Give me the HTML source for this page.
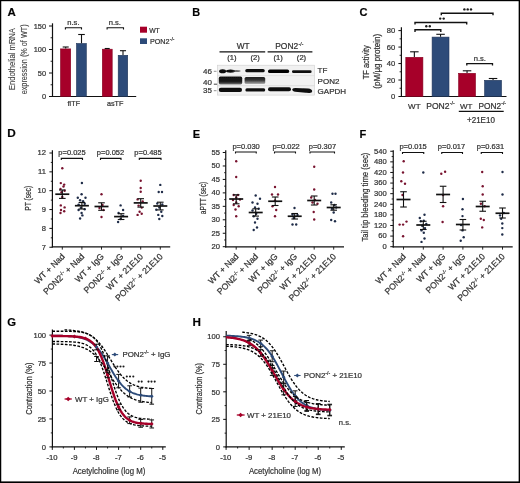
<!DOCTYPE html>
<html><head><meta charset="utf-8"><style>
html,body{margin:0;padding:0;background:#fff;}
body{width:520px;height:483px;overflow:hidden;}
svg{display:block;font-family:"Liberation Sans",sans-serif;will-change:transform;}
text{stroke:#333;stroke-width:0.22px;}
</style></head><body>
<svg width="520" height="483" viewBox="0 0 520 483">
<defs><filter id="bl" x="-10%" y="-50%" width="120%" height="200%"><feGaussianBlur stdDeviation="0.55"/></filter></defs>
<rect x="0" y="0" width="520" height="483" fill="#000"/>
<rect x="1.25" y="1.2" width="517.4" height="480.2" fill="#fff"/>
<g fill="#333" stroke-linecap="butt">
<text x="7.40" y="16.30" font-size="11" font-weight="bold" fill="#000" textLength="8.3" lengthAdjust="spacingAndGlyphs">A</text>
<line x1="52.50" y1="23.30" x2="52.50" y2="97.00" stroke="#111" stroke-width="1.2" />
<line x1="51.90" y1="96.50" x2="136.20" y2="96.50" stroke="#111" stroke-width="1.2" />
<line x1="49.00" y1="96.50" x2="52.50" y2="96.50" stroke="#111" stroke-width="1.0" />
<text x="46.00" y="99.20" font-size="7.4" text-anchor="end">0</text>
<line x1="49.00" y1="73.00" x2="52.50" y2="73.00" stroke="#111" stroke-width="1.0" />
<text x="46.00" y="75.70" font-size="7.4" text-anchor="end">50</text>
<line x1="49.00" y1="49.50" x2="52.50" y2="49.50" stroke="#111" stroke-width="1.0" />
<text x="46.00" y="52.20" font-size="7.4" text-anchor="end">100</text>
<line x1="49.00" y1="26.00" x2="52.50" y2="26.00" stroke="#111" stroke-width="1.0" />
<text x="46.00" y="28.70" font-size="7.4" text-anchor="end">150</text>
<line x1="50.60" y1="84.75" x2="52.50" y2="84.75" stroke="#111" stroke-width="0.9" />
<line x1="50.60" y1="61.25" x2="52.50" y2="61.25" stroke="#111" stroke-width="0.9" />
<line x1="50.60" y1="37.75" x2="52.50" y2="37.75" stroke="#111" stroke-width="0.9" />
<text x="15.30" y="59.10" font-size="9.6" text-anchor="middle" fill="#444" textLength="62" lengthAdjust="spacingAndGlyphs" transform="rotate(-90 15.30 59.10)" style="stroke-width:0.1px">Endothelial mRNA</text>
<text x="27.50" y="59.35" font-size="9.8" text-anchor="middle" fill="#444" textLength="70" lengthAdjust="spacingAndGlyphs" transform="rotate(-90 27.50 59.35)" style="stroke-width:0.1px">expression (% of WT)</text>
<rect x="60.50" y="48.90" width="10.20" height="47.60" fill="#a60029" stroke="#850020" stroke-width="0.6"/>
<rect x="76.50" y="43.50" width="9.80" height="53.00" fill="#2d4b79" stroke="#1f3457" stroke-width="0.6"/>
<rect x="102.30" y="49.20" width="9.90" height="47.30" fill="#a60029" stroke="#850020" stroke-width="0.6"/>
<rect x="118.20" y="55.30" width="9.50" height="41.20" fill="#2d4b79" stroke="#1f3457" stroke-width="0.6"/>
<line x1="65.70" y1="48.60" x2="65.70" y2="47.00" stroke="#111" stroke-width="1.1" />
<line x1="62.70" y1="47.00" x2="68.70" y2="47.00" stroke="#111" stroke-width="1.1" />
<line x1="81.50" y1="43.20" x2="81.50" y2="34.50" stroke="#111" stroke-width="1.1" />
<line x1="78.20" y1="34.50" x2="84.80" y2="34.50" stroke="#111" stroke-width="1.1" />
<line x1="107.20" y1="48.90" x2="107.20" y2="48.50" stroke="#111" stroke-width="1.1" />
<line x1="104.70" y1="48.50" x2="109.70" y2="48.50" stroke="#111" stroke-width="1.1" />
<line x1="123.00" y1="55.00" x2="123.00" y2="50.70" stroke="#111" stroke-width="1.1" />
<line x1="119.95" y1="50.70" x2="126.05" y2="50.70" stroke="#111" stroke-width="1.1" />
<path d="M65.40,29.60 L65.40,27.80 L81.50,27.80 L81.50,29.60" stroke="#111" stroke-width="1.1" fill="none" />
<path d="M107.10,29.60 L107.10,27.80 L123.50,27.80 L123.50,29.60" stroke="#111" stroke-width="1.1" fill="none" />
<text x="73.40" y="25.00" font-size="7.6" text-anchor="middle">n.s.</text>
<text x="114.80" y="25.00" font-size="7.6" text-anchor="middle">n.s.</text>
<text x="73.70" y="106.00" font-size="7.6" text-anchor="middle" textLength="12.6" lengthAdjust="spacingAndGlyphs">fITF</text>
<text x="115.20" y="106.00" font-size="7.6" text-anchor="middle" textLength="16.5" lengthAdjust="spacingAndGlyphs">asTF</text>
<rect x="140.00" y="26.70" width="7.00" height="6.00" fill="#a60029" />
<rect x="140.00" y="38.30" width="7.00" height="5.70" fill="#2d4b79" />
<text x="149.20" y="32.60" font-size="7.4" textLength="10.6" lengthAdjust="spacingAndGlyphs">WT</text>
<text x="149.90" y="43.80" font-size="7.4" textLength="19.7" lengthAdjust="spacingAndGlyphs">PON2</text>
<text x="169.80" y="40.80" font-size="5.0">-/-</text>
<text x="192.20" y="16.40" font-size="11" font-weight="bold" fill="#000" textLength="7.9" lengthAdjust="spacingAndGlyphs">B</text>
<text x="243.10" y="48.60" font-size="8.3" text-anchor="middle">WT</text>
<text x="275.20" y="48.60" font-size="8.3" textLength="23.0" lengthAdjust="spacingAndGlyphs">PON2</text>
<text x="298.60" y="45.60" font-size="5.0">-/-</text>
<line x1="219.50" y1="51.80" x2="265.20" y2="51.80" stroke="#111" stroke-width="1.35" />
<line x1="267.60" y1="51.80" x2="312.40" y2="51.80" stroke="#111" stroke-width="1.35" />
<text x="231.80" y="60.30" font-size="7.6" text-anchor="middle">(1)</text>
<text x="255.10" y="60.30" font-size="7.6" text-anchor="middle">(2)</text>
<text x="278.20" y="60.30" font-size="7.6" text-anchor="middle">(1)</text>
<text x="301.50" y="60.30" font-size="7.6" text-anchor="middle">(2)</text>
<text x="212.00" y="73.90" font-size="8.0" text-anchor="end">46</text>
<text x="212.00" y="84.70" font-size="8.0" text-anchor="end">40</text>
<text x="212.00" y="92.90" font-size="8.0" text-anchor="end">35</text>
<line x1="213.80" y1="71.30" x2="216.50" y2="71.30" stroke="#888" stroke-width="0.9" />
<line x1="213.80" y1="84.20" x2="218.50" y2="84.20" stroke="#444" stroke-width="1.0" />
<line x1="213.80" y1="90.70" x2="216.50" y2="90.70" stroke="#888" stroke-width="0.9" />
<rect x="217.30" y="65.20" width="97.30" height="29.90" fill="#f1f1f1" stroke="#cfcfcf" stroke-width="0.6"/>
<line x1="217.30" y1="75.60" x2="314.60" y2="75.60" stroke="#d8d8d8" stroke-width="0.6" />
<line x1="217.30" y1="85.70" x2="314.60" y2="85.70" stroke="#d0d0d0" stroke-width="0.6" />
<defs><linearGradient id="pg1" x1="0" y1="0" x2="0" y2="1"><stop offset="0" stop-color="#101010"/><stop offset="0.6" stop-color="#181818"/><stop offset="0.8" stop-color="#3a3a3a"/><stop offset="1" stop-color="#777"/></linearGradient><linearGradient id="pg2" x1="0" y1="0" x2="0" y2="1"><stop offset="0" stop-color="#1c1c1c"/><stop offset="0.45" stop-color="#333"/><stop offset="0.75" stop-color="#777"/><stop offset="1" stop-color="#b5b5b5"/></linearGradient></defs>
<g filter="url(#bl)">
<ellipse cx="222.6" cy="71.2" rx="3.5" ry="2.0" fill="#080808"/>
<ellipse cx="230.5" cy="71.1" rx="4.6" ry="1.6" fill="#0e0e0e"/>
<ellipse cx="236.5" cy="71.0" rx="4.2" ry="0.8" fill="#444"/>
<rect x="245.3" y="69.1" width="19.4" height="3.1" rx="1.5" fill="#0a0a0a"/>
<rect x="268.0" y="69.5" width="21.2" height="3.6" rx="1.7" fill="#060606"/>
<rect x="292.0" y="70.2" width="19.6" height="2.9" rx="1.4" fill="#0e0e0e"/>
<rect x="218.8" y="76.6" width="23.4" height="7.8" rx="1.6" fill="url(#pg1)"/>
<rect x="244.6" y="76.9" width="20.6" height="7.2" rx="1.6" fill="url(#pg2)"/>
<rect x="218.8" y="87.7" width="23.2" height="4.4" rx="2" fill="#0a0a0a"/>
<rect x="245.4" y="88.3" width="19.8" height="3.1" rx="1.5" fill="#0e0e0e"/>
<rect x="268.0" y="87.3" width="23.0" height="4.0" rx="2" fill="#0a0a0a"/>
<path d="M292.2,89.6 Q292.2,88.0 295,88.0 L308,88.4 Q312.2,88.8 312.2,91.2 Q312.2,93.2 309,93.0 L295,91.8 Q292.2,91.4 292.2,89.6 Z" fill="#0a0a0a"/>
</g>
<text x="317.60" y="73.20" font-size="8.0">TF</text>
<text x="317.60" y="83.50" font-size="8.0">PON2</text>
<text x="317.60" y="93.50" font-size="8.0">GAPDH</text>
<text x="359.60" y="16.40" font-size="11" font-weight="bold" fill="#000" textLength="8.0" lengthAdjust="spacingAndGlyphs">C</text>
<line x1="401.40" y1="27.30" x2="401.40" y2="97.00" stroke="#111" stroke-width="1.2" />
<line x1="400.80" y1="96.50" x2="506.50" y2="96.50" stroke="#111" stroke-width="1.2" />
<line x1="398.40" y1="96.50" x2="401.40" y2="96.50" stroke="#111" stroke-width="1.0" />
<text x="395.30" y="99.10" font-size="7.6" text-anchor="end">0</text>
<line x1="398.40" y1="80.03" x2="401.40" y2="80.03" stroke="#111" stroke-width="1.0" />
<text x="395.30" y="82.62" font-size="7.6" text-anchor="end">20</text>
<line x1="398.40" y1="63.55" x2="401.40" y2="63.55" stroke="#111" stroke-width="1.0" />
<text x="395.30" y="66.15" font-size="7.6" text-anchor="end">40</text>
<line x1="398.40" y1="47.07" x2="401.40" y2="47.07" stroke="#111" stroke-width="1.0" />
<text x="395.30" y="49.67" font-size="7.6" text-anchor="end">60</text>
<line x1="398.40" y1="30.60" x2="401.40" y2="30.60" stroke="#111" stroke-width="1.0" />
<text x="395.30" y="33.20" font-size="7.6" text-anchor="end">80</text>
<line x1="399.60" y1="88.26" x2="401.40" y2="88.26" stroke="#111" stroke-width="0.9" />
<line x1="399.60" y1="71.79" x2="401.40" y2="71.79" stroke="#111" stroke-width="0.9" />
<line x1="399.60" y1="55.31" x2="401.40" y2="55.31" stroke="#111" stroke-width="0.9" />
<line x1="399.60" y1="38.84" x2="401.40" y2="38.84" stroke="#111" stroke-width="0.9" />
<text x="369.40" y="62.30" font-size="9.2" text-anchor="middle" textLength="34" lengthAdjust="spacingAndGlyphs" transform="rotate(-90 369.40 62.30)">TF activity</text>
<text x="379.90" y="61.25" font-size="9.0" text-anchor="middle" textLength="55" lengthAdjust="spacingAndGlyphs" transform="rotate(-90 379.90 61.25)">(pM/µg protein)</text>
<rect x="405.80" y="57.30" width="17.10" height="39.20" fill="#a60029" stroke="#850020" stroke-width="0.6"/>
<line x1="414.35" y1="57.00" x2="414.35" y2="51.80" stroke="#111" stroke-width="1.1" />
<line x1="410.10" y1="51.80" x2="418.60" y2="51.80" stroke="#111" stroke-width="1.1" />
<rect x="432.10" y="37.10" width="16.90" height="59.40" fill="#2d4b79" stroke="#1f3457" stroke-width="0.6"/>
<line x1="440.55" y1="36.80" x2="440.55" y2="34.30" stroke="#111" stroke-width="1.1" />
<line x1="436.30" y1="34.30" x2="444.80" y2="34.30" stroke="#111" stroke-width="1.1" />
<rect x="458.60" y="73.30" width="16.90" height="23.20" fill="#a60029" stroke="#850020" stroke-width="0.6"/>
<line x1="467.05" y1="73.00" x2="467.05" y2="70.80" stroke="#111" stroke-width="1.1" />
<line x1="462.80" y1="70.80" x2="471.30" y2="70.80" stroke="#111" stroke-width="1.1" />
<rect x="484.60" y="80.30" width="16.90" height="16.20" fill="#2d4b79" stroke="#1f3457" stroke-width="0.6"/>
<line x1="493.05" y1="80.00" x2="493.05" y2="78.50" stroke="#111" stroke-width="1.1" />
<line x1="488.80" y1="78.50" x2="497.30" y2="78.50" stroke="#111" stroke-width="1.1" />
<path d="M415.00,32.00 L415.00,29.80 L440.80,29.80 L440.80,32.00" stroke="#111" stroke-width="1.4" fill="none" />
<path d="M415.00,24.60 L415.00,22.50 L466.70,22.50 L466.70,24.60" stroke="#111" stroke-width="1.4" fill="none" />
<path d="M441.30,15.20 L441.30,13.30 L493.00,13.30 L493.00,15.20" stroke="#111" stroke-width="1.4" fill="none" />
<path d="M466.80,65.50 L466.80,63.70 L492.50,63.70 L492.50,65.50" stroke="#111" stroke-width="1.3" fill="none" />
<circle cx="426.30" cy="26.30" r="1.2" fill="#1a1a1a"/>
<circle cx="429.80" cy="26.30" r="1.2" fill="#1a1a1a"/>
<circle cx="440.20" cy="18.60" r="1.2" fill="#1a1a1a"/>
<circle cx="443.70" cy="18.60" r="1.2" fill="#1a1a1a"/>
<circle cx="464.40" cy="9.40" r="1.2" fill="#1a1a1a"/>
<circle cx="467.70" cy="9.40" r="1.2" fill="#1a1a1a"/>
<circle cx="471.00" cy="9.40" r="1.2" fill="#1a1a1a"/>
<text x="479.80" y="60.90" font-size="7.6" text-anchor="middle">n.s.</text>
<text x="414.30" y="108.60" font-size="8.0" text-anchor="middle">WT</text>
<text x="426.20" y="108.60" font-size="8.2" textLength="23.3" lengthAdjust="spacingAndGlyphs">PON2</text>
<text x="449.80" y="104.90" font-size="5.2">-/-</text>
<text x="466.10" y="108.60" font-size="8.0" text-anchor="middle">WT</text>
<text x="478.50" y="108.60" font-size="8.2" textLength="22.6" lengthAdjust="spacingAndGlyphs">PON2</text>
<text x="501.20" y="104.90" font-size="5.2">-/-</text>
<line x1="458.80" y1="111.30" x2="503.70" y2="111.30" stroke="#111" stroke-width="1.35" />
<text x="467.00" y="123.10" font-size="8.4" textLength="27.9" lengthAdjust="spacingAndGlyphs">+21E10</text>
<text x="7.20" y="137.30" font-size="11" font-weight="bold" fill="#000" textLength="8.5" lengthAdjust="spacingAndGlyphs">D</text>
<line x1="52.40" y1="150.20" x2="52.40" y2="247.40" stroke="#111" stroke-width="1.2" />
<line x1="51.80" y1="246.90" x2="170.20" y2="246.90" stroke="#111" stroke-width="1.2" />
<line x1="49.40" y1="247.25" x2="52.40" y2="247.25" stroke="#111" stroke-width="1.0" />
<text x="46.00" y="249.55" font-size="7.6" text-anchor="end">7</text>
<line x1="49.40" y1="228.40" x2="52.40" y2="228.40" stroke="#111" stroke-width="1.0" />
<text x="46.00" y="230.70" font-size="7.6" text-anchor="end">8</text>
<line x1="49.40" y1="209.55" x2="52.40" y2="209.55" stroke="#111" stroke-width="1.0" />
<text x="46.00" y="211.85" font-size="7.6" text-anchor="end">9</text>
<line x1="49.40" y1="190.70" x2="52.40" y2="190.70" stroke="#111" stroke-width="1.0" />
<text x="46.00" y="193.00" font-size="7.6" text-anchor="end">10</text>
<line x1="49.40" y1="171.85" x2="52.40" y2="171.85" stroke="#111" stroke-width="1.0" />
<text x="46.00" y="174.15" font-size="7.6" text-anchor="end">11</text>
<line x1="49.40" y1="153.00" x2="52.40" y2="153.00" stroke="#111" stroke-width="1.0" />
<text x="46.00" y="155.30" font-size="7.6" text-anchor="end">12</text>
<line x1="50.80" y1="237.82" x2="52.40" y2="237.82" stroke="#111" stroke-width="0.9" />
<line x1="50.80" y1="218.98" x2="52.40" y2="218.98" stroke="#111" stroke-width="0.9" />
<line x1="50.80" y1="200.12" x2="52.40" y2="200.12" stroke="#111" stroke-width="0.9" />
<line x1="50.80" y1="181.28" x2="52.40" y2="181.28" stroke="#111" stroke-width="0.9" />
<line x1="50.80" y1="162.43" x2="52.40" y2="162.43" stroke="#111" stroke-width="0.9" />
<line x1="62.30" y1="246.90" x2="62.30" y2="249.60" stroke="#111" stroke-width="0.9" />
<line x1="81.90" y1="246.90" x2="81.90" y2="249.60" stroke="#111" stroke-width="0.9" />
<line x1="101.50" y1="246.90" x2="101.50" y2="249.60" stroke="#111" stroke-width="0.9" />
<line x1="121.10" y1="246.90" x2="121.10" y2="249.60" stroke="#111" stroke-width="0.9" />
<line x1="140.70" y1="246.90" x2="140.70" y2="249.60" stroke="#111" stroke-width="0.9" />
<line x1="160.30" y1="246.90" x2="160.30" y2="249.60" stroke="#111" stroke-width="0.9" />
<circle cx="62.30" cy="168.20" r="1.2" fill="#78132f"/>
<circle cx="60.80" cy="183.10" r="1.2" fill="#78132f"/>
<circle cx="64.20" cy="184.60" r="1.2" fill="#78132f"/>
<circle cx="63.50" cy="186.50" r="1.2" fill="#78132f"/>
<circle cx="60.50" cy="189.00" r="1.2" fill="#78132f"/>
<circle cx="64.60" cy="190.80" r="1.2" fill="#78132f"/>
<circle cx="61.50" cy="192.30" r="1.2" fill="#78132f"/>
<circle cx="62.30" cy="197.00" r="1.2" fill="#78132f"/>
<circle cx="60.80" cy="205.40" r="1.2" fill="#78132f"/>
<circle cx="64.60" cy="207.40" r="1.2" fill="#78132f"/>
<circle cx="61.00" cy="210.00" r="1.2" fill="#78132f"/>
<circle cx="64.20" cy="211.20" r="1.2" fill="#78132f"/>
<circle cx="60.50" cy="213.00" r="1.2" fill="#78132f"/>
<circle cx="81.90" cy="183.00" r="1.2" fill="#1f2c48"/>
<circle cx="81.60" cy="194.20" r="1.2" fill="#1f2c48"/>
<circle cx="77.80" cy="197.70" r="1.2" fill="#1f2c48"/>
<circle cx="85.50" cy="197.70" r="1.2" fill="#1f2c48"/>
<circle cx="80.10" cy="200.30" r="1.2" fill="#1f2c48"/>
<circle cx="83.10" cy="201.20" r="1.2" fill="#1f2c48"/>
<circle cx="78.60" cy="204.60" r="1.2" fill="#1f2c48"/>
<circle cx="84.70" cy="203.80" r="1.2" fill="#1f2c48"/>
<circle cx="80.90" cy="207.70" r="1.2" fill="#1f2c48"/>
<circle cx="84.70" cy="209.20" r="1.2" fill="#1f2c48"/>
<circle cx="78.60" cy="210.00" r="1.2" fill="#1f2c48"/>
<circle cx="81.60" cy="213.00" r="1.2" fill="#1f2c48"/>
<circle cx="82.40" cy="215.40" r="1.2" fill="#1f2c48"/>
<circle cx="80.10" cy="218.50" r="1.2" fill="#1f2c48"/>
<circle cx="101.50" cy="194.20" r="1.2" fill="#78132f"/>
<circle cx="102.50" cy="205.00" r="1.2" fill="#78132f"/>
<circle cx="99.50" cy="208.00" r="1.2" fill="#78132f"/>
<circle cx="103.50" cy="210.00" r="1.2" fill="#78132f"/>
<circle cx="101.50" cy="217.00" r="1.2" fill="#78132f"/>
<circle cx="120.60" cy="205.40" r="1.2" fill="#1f2c48"/>
<circle cx="123.10" cy="210.00" r="1.2" fill="#1f2c48"/>
<circle cx="118.60" cy="213.00" r="1.2" fill="#1f2c48"/>
<circle cx="123.10" cy="216.00" r="1.2" fill="#1f2c48"/>
<circle cx="120.60" cy="219.00" r="1.2" fill="#1f2c48"/>
<circle cx="118.10" cy="222.00" r="1.2" fill="#1f2c48"/>
<circle cx="140.70" cy="180.70" r="1.2" fill="#78132f"/>
<circle cx="140.70" cy="188.00" r="1.2" fill="#78132f"/>
<circle cx="140.70" cy="191.70" r="1.2" fill="#78132f"/>
<circle cx="137.60" cy="199.40" r="1.2" fill="#78132f"/>
<circle cx="142.70" cy="201.40" r="1.2" fill="#78132f"/>
<circle cx="138.60" cy="205.60" r="1.2" fill="#78132f"/>
<circle cx="141.70" cy="207.60" r="1.2" fill="#78132f"/>
<circle cx="139.60" cy="211.80" r="1.2" fill="#78132f"/>
<circle cx="137.60" cy="214.90" r="1.2" fill="#78132f"/>
<circle cx="141.70" cy="213.80" r="1.2" fill="#78132f"/>
<circle cx="160.30" cy="184.90" r="1.2" fill="#1f2c48"/>
<circle cx="158.70" cy="192.00" r="1.2" fill="#1f2c48"/>
<circle cx="162.00" cy="192.00" r="1.2" fill="#1f2c48"/>
<circle cx="157.30" cy="203.50" r="1.2" fill="#1f2c48"/>
<circle cx="162.30" cy="204.50" r="1.2" fill="#1f2c48"/>
<circle cx="159.30" cy="207.60" r="1.2" fill="#1f2c48"/>
<circle cx="156.30" cy="209.70" r="1.2" fill="#1f2c48"/>
<circle cx="161.30" cy="211.80" r="1.2" fill="#1f2c48"/>
<circle cx="158.30" cy="214.90" r="1.2" fill="#1f2c48"/>
<circle cx="162.30" cy="216.00" r="1.2" fill="#1f2c48"/>
<circle cx="159.30" cy="219.00" r="1.2" fill="#1f2c48"/>
<line x1="55.30" y1="194.20" x2="69.30" y2="194.20" stroke="#111" stroke-width="1.7" />
<line x1="62.30" y1="190.00" x2="62.30" y2="198.40" stroke="#111" stroke-width="1.1" />
<line x1="59.00" y1="190.00" x2="65.60" y2="190.00" stroke="#111" stroke-width="1.1" />
<line x1="59.00" y1="198.40" x2="65.60" y2="198.40" stroke="#111" stroke-width="1.1" />
<line x1="74.90" y1="205.70" x2="88.90" y2="205.70" stroke="#111" stroke-width="1.7" />
<line x1="81.90" y1="202.50" x2="81.90" y2="209.00" stroke="#111" stroke-width="1.1" />
<line x1="78.60" y1="202.50" x2="85.20" y2="202.50" stroke="#111" stroke-width="1.1" />
<line x1="78.60" y1="209.00" x2="85.20" y2="209.00" stroke="#111" stroke-width="1.1" />
<line x1="94.50" y1="206.50" x2="108.50" y2="206.50" stroke="#111" stroke-width="1.7" />
<line x1="101.50" y1="202.80" x2="101.50" y2="210.30" stroke="#111" stroke-width="1.1" />
<line x1="98.20" y1="202.80" x2="104.80" y2="202.80" stroke="#111" stroke-width="1.1" />
<line x1="98.20" y1="210.30" x2="104.80" y2="210.30" stroke="#111" stroke-width="1.1" />
<line x1="114.10" y1="216.60" x2="128.10" y2="216.60" stroke="#111" stroke-width="1.7" />
<line x1="121.10" y1="213.70" x2="121.10" y2="219.50" stroke="#111" stroke-width="1.1" />
<line x1="117.80" y1="213.70" x2="124.40" y2="213.70" stroke="#111" stroke-width="1.1" />
<line x1="117.80" y1="219.50" x2="124.40" y2="219.50" stroke="#111" stroke-width="1.1" />
<line x1="133.70" y1="202.90" x2="147.70" y2="202.90" stroke="#111" stroke-width="1.7" />
<line x1="140.70" y1="198.70" x2="140.70" y2="207.10" stroke="#111" stroke-width="1.1" />
<line x1="137.40" y1="198.70" x2="144.00" y2="198.70" stroke="#111" stroke-width="1.1" />
<line x1="137.40" y1="207.10" x2="144.00" y2="207.10" stroke="#111" stroke-width="1.1" />
<line x1="153.30" y1="206.00" x2="167.30" y2="206.00" stroke="#111" stroke-width="1.7" />
<line x1="160.30" y1="202.20" x2="160.30" y2="209.90" stroke="#111" stroke-width="1.1" />
<line x1="157.00" y1="202.20" x2="163.60" y2="202.20" stroke="#111" stroke-width="1.1" />
<line x1="157.00" y1="209.90" x2="163.60" y2="209.90" stroke="#111" stroke-width="1.1" />
<path d="M61.30,160.00 L61.30,158.40 L82.50,158.40 L82.50,160.00" stroke="#111" stroke-width="1.1" fill="none" />
<text x="72.00" y="155.20" font-size="7.5" text-anchor="middle">p=0.025</text>
<path d="M100.50,160.00 L100.50,158.40 L121.00,158.40 L121.00,160.00" stroke="#111" stroke-width="1.1" fill="none" />
<text x="110.50" y="155.20" font-size="7.5" text-anchor="middle">p=0.052</text>
<path d="M139.30,160.00 L139.30,158.40 L161.00,158.40 L161.00,160.00" stroke="#111" stroke-width="1.1" fill="none" />
<text x="148.00" y="155.20" font-size="7.5" text-anchor="middle">p=0.485</text>
<text x="30.90" y="198.30" font-size="8.8" text-anchor="middle" textLength="24.8" lengthAdjust="spacingAndGlyphs" transform="rotate(-90 30.90 198.30)">PT (sec)</text>
<text x="65.30" y="257.00" font-size="8.6" text-anchor="end" transform="rotate(-45 65.30 257.00)">WT + Nad</text>
<text x="84.90" y="257.00" font-size="8.6" text-anchor="end" transform="rotate(-45 84.90 257.00)">PON2<tspan font-size="5.2" dy="-3.1">-/-</tspan><tspan dy="3.1"> + Nad</tspan></text>
<text x="104.50" y="257.00" font-size="8.6" text-anchor="end" transform="rotate(-45 104.50 257.00)">WT + IgG</text>
<text x="124.10" y="257.00" font-size="8.6" text-anchor="end" transform="rotate(-45 124.10 257.00)">PON2<tspan font-size="5.2" dy="-3.1">-/-</tspan><tspan dy="3.1"> + IgG</tspan></text>
<text x="143.70" y="257.00" font-size="8.6" text-anchor="end" transform="rotate(-45 143.70 257.00)">WT + 21E10</text>
<text x="163.30" y="257.00" font-size="8.6" text-anchor="end" transform="rotate(-45 163.30 257.00)">PON2<tspan font-size="5.2" dy="-3.1">-/-</tspan><tspan dy="3.1"> + 21E10</tspan></text>
<text x="192.80" y="137.80" font-size="11" font-weight="bold" fill="#000" textLength="7.4" lengthAdjust="spacingAndGlyphs">E</text>
<line x1="225.75" y1="150.20" x2="225.75" y2="247.40" stroke="#111" stroke-width="1.2" />
<line x1="225.15" y1="246.90" x2="344.00" y2="246.90" stroke="#111" stroke-width="1.2" />
<line x1="222.75" y1="246.70" x2="225.75" y2="246.70" stroke="#111" stroke-width="1.0" />
<text x="220.00" y="249.00" font-size="7.6" text-anchor="end">20</text>
<line x1="222.75" y1="233.25" x2="225.75" y2="233.25" stroke="#111" stroke-width="1.0" />
<text x="220.00" y="235.55" font-size="7.6" text-anchor="end">25</text>
<line x1="222.75" y1="219.79" x2="225.75" y2="219.79" stroke="#111" stroke-width="1.0" />
<text x="220.00" y="222.09" font-size="7.6" text-anchor="end">30</text>
<line x1="222.75" y1="206.33" x2="225.75" y2="206.33" stroke="#111" stroke-width="1.0" />
<text x="220.00" y="208.63" font-size="7.6" text-anchor="end">35</text>
<line x1="222.75" y1="192.88" x2="225.75" y2="192.88" stroke="#111" stroke-width="1.0" />
<text x="220.00" y="195.18" font-size="7.6" text-anchor="end">40</text>
<line x1="222.75" y1="179.43" x2="225.75" y2="179.43" stroke="#111" stroke-width="1.0" />
<text x="220.00" y="181.73" font-size="7.6" text-anchor="end">45</text>
<line x1="222.75" y1="165.97" x2="225.75" y2="165.97" stroke="#111" stroke-width="1.0" />
<text x="220.00" y="168.27" font-size="7.6" text-anchor="end">50</text>
<line x1="222.75" y1="152.51" x2="225.75" y2="152.51" stroke="#111" stroke-width="1.0" />
<text x="220.00" y="154.81" font-size="7.6" text-anchor="end">55</text>
<line x1="224.15" y1="239.97" x2="225.75" y2="239.97" stroke="#111" stroke-width="0.9" />
<line x1="224.15" y1="226.52" x2="225.75" y2="226.52" stroke="#111" stroke-width="0.9" />
<line x1="224.15" y1="213.06" x2="225.75" y2="213.06" stroke="#111" stroke-width="0.9" />
<line x1="224.15" y1="199.61" x2="225.75" y2="199.61" stroke="#111" stroke-width="0.9" />
<line x1="224.15" y1="186.15" x2="225.75" y2="186.15" stroke="#111" stroke-width="0.9" />
<line x1="224.15" y1="172.70" x2="225.75" y2="172.70" stroke="#111" stroke-width="0.9" />
<line x1="224.15" y1="159.24" x2="225.75" y2="159.24" stroke="#111" stroke-width="0.9" />
<line x1="236.20" y1="246.90" x2="236.20" y2="249.60" stroke="#111" stroke-width="0.9" />
<line x1="255.70" y1="246.90" x2="255.70" y2="249.60" stroke="#111" stroke-width="0.9" />
<line x1="275.20" y1="246.90" x2="275.20" y2="249.60" stroke="#111" stroke-width="0.9" />
<line x1="294.70" y1="246.90" x2="294.70" y2="249.60" stroke="#111" stroke-width="0.9" />
<line x1="314.20" y1="246.90" x2="314.20" y2="249.60" stroke="#111" stroke-width="0.9" />
<line x1="333.70" y1="246.90" x2="333.70" y2="249.60" stroke="#111" stroke-width="0.9" />
<circle cx="236.20" cy="161.25" r="1.2" fill="#78132f"/>
<circle cx="236.20" cy="177.00" r="1.2" fill="#78132f"/>
<circle cx="233.70" cy="195.00" r="1.2" fill="#78132f"/>
<circle cx="238.00" cy="195.00" r="1.2" fill="#78132f"/>
<circle cx="236.20" cy="197.50" r="1.2" fill="#78132f"/>
<circle cx="233.00" cy="200.00" r="1.2" fill="#78132f"/>
<circle cx="240.00" cy="199.50" r="1.2" fill="#78132f"/>
<circle cx="236.20" cy="202.50" r="1.2" fill="#78132f"/>
<circle cx="233.70" cy="205.00" r="1.2" fill="#78132f"/>
<circle cx="238.70" cy="206.25" r="1.2" fill="#78132f"/>
<circle cx="235.50" cy="209.50" r="1.2" fill="#78132f"/>
<circle cx="236.20" cy="216.25" r="1.2" fill="#78132f"/>
<circle cx="255.70" cy="195.50" r="1.2" fill="#1f2c48"/>
<circle cx="260.00" cy="198.75" r="1.2" fill="#1f2c48"/>
<circle cx="252.50" cy="202.50" r="1.2" fill="#1f2c48"/>
<circle cx="257.50" cy="203.75" r="1.2" fill="#1f2c48"/>
<circle cx="255.00" cy="207.50" r="1.2" fill="#1f2c48"/>
<circle cx="258.70" cy="208.75" r="1.2" fill="#1f2c48"/>
<circle cx="252.50" cy="210.50" r="1.2" fill="#1f2c48"/>
<circle cx="256.20" cy="213.75" r="1.2" fill="#1f2c48"/>
<circle cx="253.70" cy="216.25" r="1.2" fill="#1f2c48"/>
<circle cx="257.50" cy="218.75" r="1.2" fill="#1f2c48"/>
<circle cx="255.00" cy="222.50" r="1.2" fill="#1f2c48"/>
<circle cx="257.00" cy="227.50" r="1.2" fill="#1f2c48"/>
<circle cx="253.70" cy="230.00" r="1.2" fill="#1f2c48"/>
<circle cx="275.00" cy="187.00" r="1.2" fill="#78132f"/>
<circle cx="272.00" cy="194.50" r="1.2" fill="#78132f"/>
<circle cx="278.00" cy="194.50" r="1.2" fill="#78132f"/>
<circle cx="275.00" cy="200.50" r="1.2" fill="#78132f"/>
<circle cx="272.50" cy="206.25" r="1.2" fill="#78132f"/>
<circle cx="276.20" cy="210.00" r="1.2" fill="#78132f"/>
<circle cx="275.00" cy="216.25" r="1.2" fill="#78132f"/>
<circle cx="294.50" cy="208.00" r="1.2" fill="#1f2c48"/>
<circle cx="292.50" cy="214.50" r="1.2" fill="#1f2c48"/>
<circle cx="297.50" cy="215.00" r="1.2" fill="#1f2c48"/>
<circle cx="293.70" cy="218.00" r="1.2" fill="#1f2c48"/>
<circle cx="292.50" cy="224.50" r="1.2" fill="#1f2c48"/>
<circle cx="296.20" cy="224.50" r="1.2" fill="#1f2c48"/>
<circle cx="314.20" cy="166.75" r="1.2" fill="#78132f"/>
<circle cx="314.20" cy="189.50" r="1.2" fill="#78132f"/>
<circle cx="311.20" cy="197.50" r="1.2" fill="#78132f"/>
<circle cx="315.00" cy="200.00" r="1.2" fill="#78132f"/>
<circle cx="312.50" cy="202.50" r="1.2" fill="#78132f"/>
<circle cx="317.50" cy="203.75" r="1.2" fill="#78132f"/>
<circle cx="313.70" cy="212.00" r="1.2" fill="#78132f"/>
<circle cx="314.20" cy="219.50" r="1.2" fill="#78132f"/>
<circle cx="332.50" cy="193.75" r="1.2" fill="#1f2c48"/>
<circle cx="335.50" cy="193.75" r="1.2" fill="#1f2c48"/>
<circle cx="331.20" cy="202.50" r="1.2" fill="#1f2c48"/>
<circle cx="334.50" cy="205.00" r="1.2" fill="#1f2c48"/>
<circle cx="336.20" cy="207.50" r="1.2" fill="#1f2c48"/>
<circle cx="332.00" cy="208.75" r="1.2" fill="#1f2c48"/>
<circle cx="333.70" cy="212.50" r="1.2" fill="#1f2c48"/>
<circle cx="331.20" cy="220.00" r="1.2" fill="#1f2c48"/>
<circle cx="335.00" cy="221.25" r="1.2" fill="#1f2c48"/>
<line x1="229.20" y1="199.00" x2="243.20" y2="199.00" stroke="#111" stroke-width="1.7" />
<line x1="236.20" y1="194.80" x2="236.20" y2="203.80" stroke="#111" stroke-width="1.1" />
<line x1="232.90" y1="194.80" x2="239.50" y2="194.80" stroke="#111" stroke-width="1.1" />
<line x1="232.90" y1="203.80" x2="239.50" y2="203.80" stroke="#111" stroke-width="1.1" />
<line x1="248.70" y1="212.50" x2="262.70" y2="212.50" stroke="#111" stroke-width="1.7" />
<line x1="255.70" y1="208.80" x2="255.70" y2="216.10" stroke="#111" stroke-width="1.1" />
<line x1="252.40" y1="208.80" x2="259.00" y2="208.80" stroke="#111" stroke-width="1.1" />
<line x1="252.40" y1="216.10" x2="259.00" y2="216.10" stroke="#111" stroke-width="1.1" />
<line x1="268.20" y1="201.25" x2="282.20" y2="201.25" stroke="#111" stroke-width="1.7" />
<line x1="275.20" y1="197.00" x2="275.20" y2="205.50" stroke="#111" stroke-width="1.1" />
<line x1="271.90" y1="197.00" x2="278.50" y2="197.00" stroke="#111" stroke-width="1.1" />
<line x1="271.90" y1="205.50" x2="278.50" y2="205.50" stroke="#111" stroke-width="1.1" />
<line x1="287.70" y1="216.25" x2="301.70" y2="216.25" stroke="#111" stroke-width="1.7" />
<line x1="294.70" y1="213.50" x2="294.70" y2="219.00" stroke="#111" stroke-width="1.1" />
<line x1="291.40" y1="213.50" x2="298.00" y2="213.50" stroke="#111" stroke-width="1.1" />
<line x1="291.40" y1="219.00" x2="298.00" y2="219.00" stroke="#111" stroke-width="1.1" />
<line x1="307.20" y1="200.50" x2="321.20" y2="200.50" stroke="#111" stroke-width="1.7" />
<line x1="314.20" y1="196.00" x2="314.20" y2="205.00" stroke="#111" stroke-width="1.1" />
<line x1="310.90" y1="196.00" x2="317.50" y2="196.00" stroke="#111" stroke-width="1.1" />
<line x1="310.90" y1="205.00" x2="317.50" y2="205.00" stroke="#111" stroke-width="1.1" />
<line x1="326.70" y1="207.50" x2="340.70" y2="207.50" stroke="#111" stroke-width="1.7" />
<line x1="333.70" y1="204.80" x2="333.70" y2="210.20" stroke="#111" stroke-width="1.1" />
<line x1="330.40" y1="204.80" x2="337.00" y2="204.80" stroke="#111" stroke-width="1.1" />
<line x1="330.40" y1="210.20" x2="337.00" y2="210.20" stroke="#111" stroke-width="1.1" />
<path d="M235.50,153.60 L235.50,152.00 L256.25,152.00 L256.25,153.60" stroke="#111" stroke-width="1.1" fill="none" />
<text x="246.10" y="148.80" font-size="7.5" text-anchor="middle">p=0.030</text>
<path d="M274.50,153.60 L274.50,152.00 L295.50,152.00 L295.50,153.60" stroke="#111" stroke-width="1.1" fill="none" />
<text x="286.10" y="148.80" font-size="7.5" text-anchor="middle">p=0.022</text>
<path d="M310.00,153.60 L310.00,152.00 L334.50,152.00 L334.50,153.60" stroke="#111" stroke-width="1.1" fill="none" />
<text x="322.40" y="148.80" font-size="7.5" text-anchor="middle">p=0.307</text>
<text x="205.80" y="198.00" font-size="8.8" text-anchor="middle" textLength="32.3" lengthAdjust="spacingAndGlyphs" transform="rotate(-90 205.80 198.00)">aPTT (sec)</text>
<text x="239.20" y="257.00" font-size="8.6" text-anchor="end" transform="rotate(-45 239.20 257.00)">WT + Nad</text>
<text x="258.70" y="257.00" font-size="8.6" text-anchor="end" transform="rotate(-45 258.70 257.00)">PON2<tspan font-size="5.2" dy="-3.1">-/-</tspan><tspan dy="3.1"> + Nad</tspan></text>
<text x="278.20" y="257.00" font-size="8.6" text-anchor="end" transform="rotate(-45 278.20 257.00)">WT + IgG</text>
<text x="297.70" y="257.00" font-size="8.6" text-anchor="end" transform="rotate(-45 297.70 257.00)">PON2<tspan font-size="5.2" dy="-3.1">-/-</tspan><tspan dy="3.1"> + IgG</tspan></text>
<text x="317.20" y="257.00" font-size="8.6" text-anchor="end" transform="rotate(-45 317.20 257.00)">WT + 21E10</text>
<text x="336.70" y="257.00" font-size="8.6" text-anchor="end" transform="rotate(-45 336.70 257.00)">PON2<tspan font-size="5.2" dy="-3.1">-/-</tspan><tspan dy="3.1"> + 21E10</tspan></text>
<text x="359.50" y="137.80" font-size="11" font-weight="bold" fill="#000" textLength="6.8" lengthAdjust="spacingAndGlyphs">F</text>
<line x1="393.25" y1="150.20" x2="393.25" y2="247.40" stroke="#111" stroke-width="1.2" />
<line x1="392.65" y1="246.90" x2="512.70" y2="246.90" stroke="#111" stroke-width="1.2" />
<line x1="390.25" y1="246.70" x2="393.25" y2="246.70" stroke="#111" stroke-width="1.0" />
<text x="386.70" y="249.00" font-size="7.6" text-anchor="end">0</text>
<line x1="390.25" y1="236.09" x2="393.25" y2="236.09" stroke="#111" stroke-width="1.0" />
<text x="386.70" y="238.39" font-size="7.6" text-anchor="end">60</text>
<line x1="390.25" y1="225.49" x2="393.25" y2="225.49" stroke="#111" stroke-width="1.0" />
<text x="386.70" y="227.79" font-size="7.6" text-anchor="end">120</text>
<line x1="390.25" y1="214.88" x2="393.25" y2="214.88" stroke="#111" stroke-width="1.0" />
<text x="386.70" y="217.18" font-size="7.6" text-anchor="end">180</text>
<line x1="390.25" y1="204.28" x2="393.25" y2="204.28" stroke="#111" stroke-width="1.0" />
<text x="386.70" y="206.58" font-size="7.6" text-anchor="end">240</text>
<line x1="390.25" y1="193.67" x2="393.25" y2="193.67" stroke="#111" stroke-width="1.0" />
<text x="386.70" y="195.97" font-size="7.6" text-anchor="end">300</text>
<line x1="390.25" y1="183.07" x2="393.25" y2="183.07" stroke="#111" stroke-width="1.0" />
<text x="386.70" y="185.37" font-size="7.6" text-anchor="end">360</text>
<line x1="390.25" y1="172.46" x2="393.25" y2="172.46" stroke="#111" stroke-width="1.0" />
<text x="386.70" y="174.76" font-size="7.6" text-anchor="end">420</text>
<line x1="390.25" y1="161.86" x2="393.25" y2="161.86" stroke="#111" stroke-width="1.0" />
<text x="386.70" y="164.16" font-size="7.6" text-anchor="end">480</text>
<line x1="390.25" y1="151.25" x2="393.25" y2="151.25" stroke="#111" stroke-width="1.0" />
<text x="386.70" y="153.55" font-size="7.6" text-anchor="end">540</text>
<line x1="391.65" y1="241.40" x2="393.25" y2="241.40" stroke="#111" stroke-width="0.9" />
<line x1="391.65" y1="230.79" x2="393.25" y2="230.79" stroke="#111" stroke-width="0.9" />
<line x1="391.65" y1="220.19" x2="393.25" y2="220.19" stroke="#111" stroke-width="0.9" />
<line x1="391.65" y1="209.58" x2="393.25" y2="209.58" stroke="#111" stroke-width="0.9" />
<line x1="391.65" y1="198.97" x2="393.25" y2="198.97" stroke="#111" stroke-width="0.9" />
<line x1="391.65" y1="188.37" x2="393.25" y2="188.37" stroke="#111" stroke-width="0.9" />
<line x1="391.65" y1="177.76" x2="393.25" y2="177.76" stroke="#111" stroke-width="0.9" />
<line x1="391.65" y1="167.16" x2="393.25" y2="167.16" stroke="#111" stroke-width="0.9" />
<line x1="391.65" y1="156.55" x2="393.25" y2="156.55" stroke="#111" stroke-width="0.9" />
<line x1="403.50" y1="246.90" x2="403.50" y2="249.60" stroke="#111" stroke-width="0.9" />
<line x1="423.30" y1="246.90" x2="423.30" y2="249.60" stroke="#111" stroke-width="0.9" />
<line x1="443.10" y1="246.90" x2="443.10" y2="249.60" stroke="#111" stroke-width="0.9" />
<line x1="462.90" y1="246.90" x2="462.90" y2="249.60" stroke="#111" stroke-width="0.9" />
<line x1="482.70" y1="246.90" x2="482.70" y2="249.60" stroke="#111" stroke-width="0.9" />
<line x1="502.50" y1="246.90" x2="502.50" y2="249.60" stroke="#111" stroke-width="0.9" />
<circle cx="403.70" cy="161.25" r="1.2" fill="#78132f"/>
<circle cx="403.00" cy="172.50" r="1.2" fill="#78132f"/>
<circle cx="401.30" cy="181.25" r="1.2" fill="#78132f"/>
<circle cx="405.00" cy="183.75" r="1.2" fill="#78132f"/>
<circle cx="402.50" cy="195.00" r="1.2" fill="#78132f"/>
<circle cx="399.60" cy="224.60" r="1.2" fill="#78132f"/>
<circle cx="403.10" cy="224.60" r="1.2" fill="#78132f"/>
<circle cx="406.50" cy="221.60" r="1.2" fill="#78132f"/>
<circle cx="403.10" cy="236.20" r="1.2" fill="#78132f"/>
<circle cx="423.30" cy="172.50" r="1.2" fill="#1f2c48"/>
<circle cx="424.50" cy="214.70" r="1.2" fill="#1f2c48"/>
<circle cx="420.80" cy="221.20" r="1.2" fill="#1f2c48"/>
<circle cx="423.80" cy="220.70" r="1.2" fill="#1f2c48"/>
<circle cx="422.20" cy="225.80" r="1.2" fill="#1f2c48"/>
<circle cx="425.00" cy="228.10" r="1.2" fill="#1f2c48"/>
<circle cx="421.50" cy="230.40" r="1.2" fill="#1f2c48"/>
<circle cx="423.80" cy="232.70" r="1.2" fill="#1f2c48"/>
<circle cx="424.50" cy="238.50" r="1.2" fill="#1f2c48"/>
<circle cx="421.50" cy="241.90" r="1.2" fill="#1f2c48"/>
<circle cx="426.30" cy="224.00" r="1.2" fill="#1f2c48"/>
<circle cx="419.80" cy="218.00" r="1.2" fill="#1f2c48"/>
<circle cx="441.30" cy="173.75" r="1.2" fill="#78132f"/>
<circle cx="445.10" cy="171.75" r="1.2" fill="#78132f"/>
<circle cx="443.10" cy="195.00" r="1.2" fill="#78132f"/>
<circle cx="443.10" cy="206.25" r="1.2" fill="#78132f"/>
<circle cx="442.60" cy="222.00" r="1.2" fill="#78132f"/>
<circle cx="462.90" cy="199.00" r="1.2" fill="#1f2c48"/>
<circle cx="462.50" cy="209.20" r="1.2" fill="#1f2c48"/>
<circle cx="462.50" cy="216.10" r="1.2" fill="#1f2c48"/>
<circle cx="461.10" cy="225.00" r="1.2" fill="#1f2c48"/>
<circle cx="462.50" cy="230.40" r="1.2" fill="#1f2c48"/>
<circle cx="463.70" cy="237.30" r="1.2" fill="#1f2c48"/>
<circle cx="460.70" cy="240.80" r="1.2" fill="#1f2c48"/>
<circle cx="482.20" cy="172.00" r="1.2" fill="#78132f"/>
<circle cx="482.70" cy="186.25" r="1.2" fill="#78132f"/>
<circle cx="482.70" cy="194.50" r="1.2" fill="#78132f"/>
<circle cx="480.90" cy="203.75" r="1.2" fill="#78132f"/>
<circle cx="484.70" cy="206.25" r="1.2" fill="#78132f"/>
<circle cx="480.80" cy="218.80" r="1.2" fill="#78132f"/>
<circle cx="483.80" cy="220.00" r="1.2" fill="#78132f"/>
<circle cx="482.20" cy="227.40" r="1.2" fill="#78132f"/>
<circle cx="502.50" cy="172.00" r="1.2" fill="#1f2c48"/>
<circle cx="502.50" cy="194.50" r="1.2" fill="#1f2c48"/>
<circle cx="500.00" cy="215.40" r="1.2" fill="#1f2c48"/>
<circle cx="503.80" cy="213.00" r="1.2" fill="#1f2c48"/>
<circle cx="501.20" cy="218.75" r="1.2" fill="#1f2c48"/>
<circle cx="502.30" cy="223.50" r="1.2" fill="#1f2c48"/>
<circle cx="502.30" cy="228.10" r="1.2" fill="#1f2c48"/>
<circle cx="502.30" cy="234.50" r="1.2" fill="#1f2c48"/>
<line x1="396.50" y1="199.50" x2="410.50" y2="199.50" stroke="#111" stroke-width="1.7" />
<line x1="403.50" y1="191.75" x2="403.50" y2="207.00" stroke="#111" stroke-width="1.1" />
<line x1="400.20" y1="191.75" x2="406.80" y2="191.75" stroke="#111" stroke-width="1.1" />
<line x1="400.20" y1="207.00" x2="406.80" y2="207.00" stroke="#111" stroke-width="1.1" />
<line x1="416.30" y1="225.00" x2="430.30" y2="225.00" stroke="#111" stroke-width="1.7" />
<line x1="423.30" y1="221.25" x2="423.30" y2="229.50" stroke="#111" stroke-width="1.1" />
<line x1="420.00" y1="221.25" x2="426.60" y2="221.25" stroke="#111" stroke-width="1.1" />
<line x1="420.00" y1="229.50" x2="426.60" y2="229.50" stroke="#111" stroke-width="1.1" />
<line x1="436.10" y1="194.50" x2="450.10" y2="194.50" stroke="#111" stroke-width="1.7" />
<line x1="443.10" y1="186.25" x2="443.10" y2="202.50" stroke="#111" stroke-width="1.1" />
<line x1="439.80" y1="186.25" x2="446.40" y2="186.25" stroke="#111" stroke-width="1.1" />
<line x1="439.80" y1="202.50" x2="446.40" y2="202.50" stroke="#111" stroke-width="1.1" />
<line x1="455.90" y1="224.50" x2="469.90" y2="224.50" stroke="#111" stroke-width="1.7" />
<line x1="462.90" y1="219.50" x2="462.90" y2="230.00" stroke="#111" stroke-width="1.1" />
<line x1="459.60" y1="219.50" x2="466.20" y2="219.50" stroke="#111" stroke-width="1.1" />
<line x1="459.60" y1="230.00" x2="466.20" y2="230.00" stroke="#111" stroke-width="1.1" />
<line x1="475.70" y1="206.50" x2="489.70" y2="206.50" stroke="#111" stroke-width="1.7" />
<line x1="482.70" y1="201.25" x2="482.70" y2="211.25" stroke="#111" stroke-width="1.1" />
<line x1="479.40" y1="201.25" x2="486.00" y2="201.25" stroke="#111" stroke-width="1.1" />
<line x1="479.40" y1="211.25" x2="486.00" y2="211.25" stroke="#111" stroke-width="1.1" />
<line x1="495.50" y1="213.25" x2="509.50" y2="213.25" stroke="#111" stroke-width="1.7" />
<line x1="502.50" y1="208.00" x2="502.50" y2="218.00" stroke="#111" stroke-width="1.1" />
<line x1="499.20" y1="208.00" x2="505.80" y2="208.00" stroke="#111" stroke-width="1.1" />
<line x1="499.20" y1="218.00" x2="505.80" y2="218.00" stroke="#111" stroke-width="1.1" />
<path d="M402.50,154.10 L402.50,152.50 L423.75,152.50 L423.75,154.10" stroke="#111" stroke-width="1.1" fill="none" />
<text x="413.10" y="149.00" font-size="7.5" text-anchor="middle">p=0.015</text>
<path d="M441.75,154.10 L441.75,152.50 L462.50,152.50 L462.50,154.10" stroke="#111" stroke-width="1.1" fill="none" />
<text x="451.50" y="149.00" font-size="7.5" text-anchor="middle">p=0.017</text>
<path d="M481.25,154.10 L481.25,152.50 L502.50,152.50 L502.50,154.10" stroke="#111" stroke-width="1.1" fill="none" />
<text x="490.40" y="149.00" font-size="7.5" text-anchor="middle">p=0.631</text>
<text x="367.90" y="197.10" font-size="8.8" text-anchor="middle" textLength="89" lengthAdjust="spacingAndGlyphs" transform="rotate(-90 367.90 197.10)">Tail tip bleeding time (sec)</text>
<text x="406.50" y="257.00" font-size="8.6" text-anchor="end" transform="rotate(-45 406.50 257.00)">WT + Nad</text>
<text x="426.30" y="257.00" font-size="8.6" text-anchor="end" transform="rotate(-45 426.30 257.00)">PON2<tspan font-size="5.2" dy="-3.1">-/-</tspan><tspan dy="3.1"> + Nad</tspan></text>
<text x="446.10" y="257.00" font-size="8.6" text-anchor="end" transform="rotate(-45 446.10 257.00)">WT + IgG</text>
<text x="465.90" y="257.00" font-size="8.6" text-anchor="end" transform="rotate(-45 465.90 257.00)">PON2<tspan font-size="5.2" dy="-3.1">-/-</tspan><tspan dy="3.1"> + IgG</tspan></text>
<text x="485.70" y="257.00" font-size="8.6" text-anchor="end" transform="rotate(-45 485.70 257.00)">WT + 21E10</text>
<text x="505.50" y="257.00" font-size="8.6" text-anchor="end" transform="rotate(-45 505.50 257.00)">PON2<tspan font-size="5.2" dy="-3.1">-/-</tspan><tspan dy="3.1"> + 21E10</tspan></text>
<text x="7.30" y="326.20" font-size="11" font-weight="bold" fill="#000" textLength="8.8" lengthAdjust="spacingAndGlyphs">G</text>
<line x1="52.40" y1="329.50" x2="52.40" y2="447.40" stroke="#111" stroke-width="1.2" />
<line x1="51.80" y1="446.90" x2="165.80" y2="446.90" stroke="#111" stroke-width="1.2" />
<line x1="49.40" y1="446.90" x2="52.40" y2="446.90" stroke="#111" stroke-width="1.0" />
<text x="46.10" y="449.60" font-size="7.6" text-anchor="end">0</text>
<line x1="49.40" y1="418.95" x2="52.40" y2="418.95" stroke="#111" stroke-width="1.0" />
<text x="46.10" y="421.65" font-size="7.6" text-anchor="end">25</text>
<line x1="49.40" y1="391.00" x2="52.40" y2="391.00" stroke="#111" stroke-width="1.0" />
<text x="46.10" y="393.70" font-size="7.6" text-anchor="end">50</text>
<line x1="49.40" y1="363.05" x2="52.40" y2="363.05" stroke="#111" stroke-width="1.0" />
<text x="46.10" y="365.75" font-size="7.6" text-anchor="end">75</text>
<line x1="49.40" y1="335.10" x2="52.40" y2="335.10" stroke="#111" stroke-width="1.0" />
<text x="46.10" y="337.80" font-size="7.6" text-anchor="end">100</text>
<line x1="50.80" y1="432.92" x2="52.40" y2="432.92" stroke="#111" stroke-width="0.9" />
<line x1="50.80" y1="404.97" x2="52.40" y2="404.97" stroke="#111" stroke-width="0.9" />
<line x1="50.80" y1="377.02" x2="52.40" y2="377.02" stroke="#111" stroke-width="0.9" />
<line x1="50.80" y1="349.07" x2="52.40" y2="349.07" stroke="#111" stroke-width="0.9" />
<line x1="52.30" y1="446.90" x2="52.30" y2="449.90" stroke="#111" stroke-width="1.0" />
<text x="52.00" y="460.30" font-size="7.7" text-anchor="middle">-10</text>
<line x1="74.40" y1="446.90" x2="74.40" y2="449.90" stroke="#111" stroke-width="1.0" />
<text x="74.10" y="460.30" font-size="7.7" text-anchor="middle">-9</text>
<line x1="96.50" y1="446.90" x2="96.50" y2="449.90" stroke="#111" stroke-width="1.0" />
<text x="96.20" y="460.30" font-size="7.7" text-anchor="middle">-8</text>
<line x1="118.60" y1="446.90" x2="118.60" y2="449.90" stroke="#111" stroke-width="1.0" />
<text x="118.30" y="460.30" font-size="7.7" text-anchor="middle">-7</text>
<line x1="140.70" y1="446.90" x2="140.70" y2="449.90" stroke="#111" stroke-width="1.0" />
<text x="140.40" y="460.30" font-size="7.7" text-anchor="middle">-6</text>
<line x1="162.80" y1="446.90" x2="162.80" y2="449.90" stroke="#111" stroke-width="1.0" />
<text x="162.50" y="460.30" font-size="7.7" text-anchor="middle">-5</text>
<line x1="63.35" y1="446.90" x2="63.35" y2="448.50" stroke="#111" stroke-width="0.9" />
<line x1="85.45" y1="446.90" x2="85.45" y2="448.50" stroke="#111" stroke-width="0.9" />
<line x1="107.55" y1="446.90" x2="107.55" y2="448.50" stroke="#111" stroke-width="0.9" />
<line x1="129.65" y1="446.90" x2="129.65" y2="448.50" stroke="#111" stroke-width="0.9" />
<line x1="151.75" y1="446.90" x2="151.75" y2="448.50" stroke="#111" stroke-width="0.9" />
<text x="31.70" y="388.60" font-size="9.9" text-anchor="middle" textLength="52.2" lengthAdjust="spacingAndGlyphs" transform="rotate(-90 31.70 388.60)">Contraction (%)</text>
<text x="109.00" y="473.60" font-size="9.6" text-anchor="middle" textLength="72.7" lengthAdjust="spacingAndGlyphs">Acetylcholine (log M)</text>
<text x="192.50" y="326.20" font-size="11" font-weight="bold" fill="#000" textLength="8.4" lengthAdjust="spacingAndGlyphs">H</text>
<line x1="226.20" y1="331.00" x2="226.20" y2="447.40" stroke="#111" stroke-width="1.2" />
<line x1="225.60" y1="446.90" x2="344.80" y2="446.90" stroke="#111" stroke-width="1.2" />
<line x1="223.20" y1="446.90" x2="226.20" y2="446.90" stroke="#111" stroke-width="1.0" />
<text x="219.90" y="449.60" font-size="7.6" text-anchor="end">0</text>
<line x1="223.20" y1="419.36" x2="226.20" y2="419.36" stroke="#111" stroke-width="1.0" />
<text x="219.90" y="422.06" font-size="7.6" text-anchor="end">25</text>
<line x1="223.20" y1="391.82" x2="226.20" y2="391.82" stroke="#111" stroke-width="1.0" />
<text x="219.90" y="394.52" font-size="7.6" text-anchor="end">50</text>
<line x1="223.20" y1="364.29" x2="226.20" y2="364.29" stroke="#111" stroke-width="1.0" />
<text x="219.90" y="366.99" font-size="7.6" text-anchor="end">75</text>
<line x1="223.20" y1="336.75" x2="226.20" y2="336.75" stroke="#111" stroke-width="1.0" />
<text x="219.90" y="339.45" font-size="7.6" text-anchor="end">100</text>
<line x1="224.60" y1="433.13" x2="226.20" y2="433.13" stroke="#111" stroke-width="0.9" />
<line x1="224.60" y1="405.59" x2="226.20" y2="405.59" stroke="#111" stroke-width="0.9" />
<line x1="224.60" y1="378.06" x2="226.20" y2="378.06" stroke="#111" stroke-width="0.9" />
<line x1="224.60" y1="350.52" x2="226.20" y2="350.52" stroke="#111" stroke-width="0.9" />
<line x1="226.10" y1="446.90" x2="226.10" y2="449.90" stroke="#111" stroke-width="1.0" />
<text x="225.80" y="460.30" font-size="7.7" text-anchor="middle">-10</text>
<line x1="249.13" y1="446.90" x2="249.13" y2="449.90" stroke="#111" stroke-width="1.0" />
<text x="248.83" y="460.30" font-size="7.7" text-anchor="middle">-9</text>
<line x1="272.16" y1="446.90" x2="272.16" y2="449.90" stroke="#111" stroke-width="1.0" />
<text x="271.86" y="460.30" font-size="7.7" text-anchor="middle">-8</text>
<line x1="295.19" y1="446.90" x2="295.19" y2="449.90" stroke="#111" stroke-width="1.0" />
<text x="294.89" y="460.30" font-size="7.7" text-anchor="middle">-7</text>
<line x1="318.22" y1="446.90" x2="318.22" y2="449.90" stroke="#111" stroke-width="1.0" />
<text x="317.92" y="460.30" font-size="7.7" text-anchor="middle">-6</text>
<line x1="341.25" y1="446.90" x2="341.25" y2="449.90" stroke="#111" stroke-width="1.0" />
<text x="340.95" y="460.30" font-size="7.7" text-anchor="middle">-5</text>
<line x1="237.62" y1="446.90" x2="237.62" y2="448.50" stroke="#111" stroke-width="0.9" />
<line x1="260.64" y1="446.90" x2="260.64" y2="448.50" stroke="#111" stroke-width="0.9" />
<line x1="283.68" y1="446.90" x2="283.68" y2="448.50" stroke="#111" stroke-width="0.9" />
<line x1="306.70" y1="446.90" x2="306.70" y2="448.50" stroke="#111" stroke-width="0.9" />
<line x1="329.74" y1="446.90" x2="329.74" y2="448.50" stroke="#111" stroke-width="0.9" />
<text x="201.60" y="388.70" font-size="9.7" text-anchor="middle" textLength="51.4" lengthAdjust="spacingAndGlyphs" transform="rotate(-90 201.60 388.70)">Contraction (%)</text>
<text x="285.00" y="473.60" font-size="9.6" text-anchor="middle" textLength="72.2" lengthAdjust="spacingAndGlyphs">Acetylcholine (log M)</text>
<path d="M52.30,335.64 L53.54,335.65 L54.79,335.67 L56.03,335.68 L57.27,335.70 L58.52,335.73 L59.76,335.76 L61.00,335.79 L62.24,335.82 L63.49,335.87 L64.73,335.91 L65.97,335.97 L67.22,336.04 L68.46,336.11 L69.70,336.19 L70.95,336.29 L72.19,336.40 L73.43,336.53 L74.68,336.68 L75.92,336.85 L77.16,337.05 L78.41,337.27 L79.65,337.53 L80.89,337.82 L82.13,338.15 L83.38,338.53 L84.62,338.96 L85.86,339.45 L87.11,340.00 L88.35,340.63 L89.59,341.33 L90.84,342.12 L92.08,343.01 L93.32,343.99 L94.57,345.09 L95.81,346.29 L97.05,347.61 L98.30,349.05 L99.54,350.61 L100.78,352.29 L102.03,354.07 L103.27,355.97 L104.51,357.95 L105.75,360.01 L107.00,362.13 L108.24,364.29 L109.48,366.47 L110.73,368.65 L111.97,370.80 L113.21,372.91 L114.46,374.95 L115.70,376.91 L116.94,378.77 L118.19,380.53 L119.43,382.18 L120.67,383.71 L121.92,385.11 L123.16,386.40 L124.40,387.58 L125.64,388.64 L126.89,389.60 L128.13,390.46 L129.37,391.22 L130.62,391.91 L131.86,392.51 L133.10,393.05 L134.35,393.52 L135.59,393.94 L136.83,394.30 L138.08,394.63 L139.32,394.91 L140.56,395.15 L141.81,395.37 L143.05,395.56 L144.29,395.72 L145.53,395.86 L146.78,395.99 L148.02,396.10 L149.26,396.19 L150.51,396.27 L151.75,396.34" stroke="#2d4b79" stroke-width="1.9" fill="none" />
<path d="M52.30,336.01 L53.54,336.02 L54.79,336.02 L56.03,336.03 L57.27,336.03 L58.52,336.04 L59.76,336.05 L61.00,336.06 L62.24,336.07 L63.49,336.09 L64.73,336.11 L65.97,336.13 L67.22,336.16 L68.46,336.19 L69.70,336.23 L70.95,336.28 L72.19,336.34 L73.43,336.41 L74.68,336.50 L75.92,336.60 L77.16,336.72 L78.41,336.87 L79.65,337.04 L80.89,337.26 L82.13,337.51 L83.38,337.81 L84.62,338.18 L85.86,338.61 L87.11,339.13 L88.35,339.75 L89.59,340.48 L90.84,341.34 L92.08,342.36 L93.32,343.55 L94.57,344.94 L95.81,346.56 L97.05,348.42 L98.30,350.54 L99.54,352.95 L100.78,355.65 L102.03,358.65 L103.27,361.92 L104.51,365.46 L105.75,369.22 L107.00,373.16 L108.24,377.22 L109.48,381.32 L110.73,385.40 L111.97,389.39 L113.21,393.23 L114.46,396.86 L115.70,400.24 L116.94,403.34 L118.19,406.15 L119.43,408.67 L120.67,410.90 L121.92,412.86 L123.16,414.56 L124.40,416.04 L125.64,417.30 L126.89,418.38 L128.13,419.30 L129.37,420.08 L130.62,420.74 L131.86,421.29 L133.10,421.75 L134.35,422.14 L135.59,422.47 L136.83,422.74 L138.08,422.97 L139.32,423.16 L140.56,423.31 L141.81,423.45 L143.05,423.56 L144.29,423.65 L145.53,423.72 L146.78,423.79 L148.02,423.84 L149.26,423.88 L150.51,423.92 L151.75,423.95" stroke="#a60029" stroke-width="2.4" fill="none" />
<path d="M52.30,331.20 L53.54,331.20 L54.79,331.21 L56.03,331.21 L57.27,331.22 L58.52,331.22 L59.76,331.23 L61.00,331.24 L62.24,331.25 L63.49,331.26 L64.73,331.28 L65.97,331.30 L67.22,331.32 L68.46,331.34 L69.70,331.38 L70.95,331.41 L72.19,331.46 L73.43,331.52 L74.68,331.59 L75.92,331.67 L77.16,331.76 L78.41,331.88 L79.65,332.02 L80.89,332.19 L82.13,332.39 L83.38,332.64 L84.62,332.93 L85.86,333.28 L87.11,333.70 L88.35,334.19 L89.59,334.78 L90.84,335.48 L92.08,336.31 L93.32,337.29 L94.57,338.44 L95.81,339.78 L97.05,341.34 L98.30,343.14 L99.54,345.21 L100.78,347.55 L102.03,350.18 L103.27,353.11 L104.51,356.32 L105.75,359.80 L107.00,363.52 L108.24,367.43 L109.48,371.46 L110.73,375.57 L111.97,379.66 L113.21,383.69 L114.46,387.57 L115.70,391.26 L116.94,394.71 L118.19,397.88 L119.43,400.77 L120.67,403.36 L121.92,405.67 L123.16,407.69 L124.40,409.46 L125.64,410.99 L126.89,412.31 L128.13,413.43 L129.37,414.39 L130.62,415.20 L131.86,415.89 L133.10,416.46 L134.35,416.95 L135.59,417.36 L136.83,417.70 L138.08,417.98 L139.32,418.22 L140.56,418.42 L141.81,418.58 L143.05,418.72 L144.29,418.83 L145.53,418.93 L146.78,419.01 L148.02,419.07 L149.26,419.13 L150.51,419.17 L151.75,419.21" stroke="#000" stroke-width="1.35" fill="none" stroke-dasharray="2.7 1.5"/>
<path d="M52.30,341.49 L53.54,341.50 L54.79,341.50 L56.03,341.51 L57.27,341.52 L58.52,341.53 L59.76,341.54 L61.00,341.55 L62.24,341.57 L63.49,341.59 L64.73,341.61 L65.97,341.64 L67.22,341.67 L68.46,341.71 L69.70,341.76 L70.95,341.82 L72.19,341.89 L73.43,341.98 L74.68,342.08 L75.92,342.20 L77.16,342.35 L78.41,342.53 L79.65,342.74 L80.89,343.00 L82.13,343.31 L83.38,343.67 L84.62,344.11 L85.86,344.63 L87.11,345.25 L88.35,345.98 L89.59,346.85 L90.84,347.87 L92.08,349.06 L93.32,350.45 L94.57,352.06 L95.81,353.91 L97.05,356.03 L98.30,358.41 L99.54,361.09 L100.78,364.04 L102.03,367.26 L103.27,370.72 L104.51,374.39 L105.75,378.22 L107.00,382.14 L108.24,386.10 L109.48,390.01 L110.73,393.82 L111.97,397.47 L113.21,400.91 L114.46,404.11 L115.70,407.03 L116.94,409.67 L118.19,412.02 L119.43,414.11 L120.67,415.93 L121.92,417.52 L123.16,418.88 L124.40,420.06 L125.64,421.06 L126.89,421.91 L128.13,422.63 L129.37,423.23 L130.62,423.75 L131.86,424.17 L133.10,424.53 L134.35,424.83 L135.59,425.08 L136.83,425.29 L138.08,425.47 L139.32,425.61 L140.56,425.73 L141.81,425.83 L143.05,425.92 L144.29,425.99 L145.53,426.05 L146.78,426.09 L148.02,426.13 L149.26,426.17 L150.51,426.19 L151.75,426.22" stroke="#000" stroke-width="1.35" fill="none" stroke-dasharray="2.7 1.5"/>
<path d="M64.46,329.88 L65.55,329.93 L66.64,329.98 L67.73,330.04 L68.82,330.11 L69.91,330.18 L71.00,330.27 L72.09,330.36 L73.18,330.47 L74.28,330.59 L75.37,330.73 L76.46,330.88 L77.55,331.05 L78.64,331.24 L79.73,331.45 L80.82,331.69 L81.91,331.96 L83.01,332.26 L84.10,332.60 L85.19,332.97 L86.28,333.38 L87.37,333.84 L88.46,334.35 L89.55,334.92 L90.64,335.54 L91.73,336.22 L92.83,336.97 L93.92,337.80 L95.01,338.70 L96.10,339.67 L97.19,340.73 L98.28,341.87 L99.37,343.09 L100.46,344.39 L101.56,345.78 L102.65,347.24 L103.74,348.78 L104.83,350.38 L105.92,352.05 L107.01,353.76 L108.10,355.51 L109.19,357.29 L110.28,359.08 L111.38,360.87 L112.47,362.65 L113.56,364.41 L114.65,366.14 L115.74,367.81 L116.83,369.43 L117.92,370.98 L119.01,372.47 L120.11,373.87 L121.20,375.20 L122.29,376.44 L123.38,377.60 L124.47,378.68 L125.56,379.67 L126.65,380.59 L127.74,381.43 L128.84,382.20 L129.93,382.90 L131.02,383.54 L132.11,384.12 L133.20,384.64 L134.29,385.12 L135.38,385.54 L136.47,385.92 L137.56,386.27 L138.66,386.57 L139.75,386.85 L140.84,387.10 L141.93,387.32 L143.02,387.51 L144.11,387.69 L145.20,387.85 L146.29,387.99 L147.39,388.11 L148.48,388.22 L149.57,388.32 L150.66,388.41 L151.75,388.48" stroke="#000" stroke-width="1.35" fill="none" stroke-dasharray="2.7 1.5"/>
<path d="M52.30,343.98 L53.54,344.01 L54.79,344.03 L56.03,344.06 L57.27,344.09 L58.52,344.13 L59.76,344.17 L61.00,344.22 L62.24,344.28 L63.49,344.34 L64.73,344.41 L65.97,344.49 L67.22,344.59 L68.46,344.69 L69.70,344.81 L70.95,344.94 L72.19,345.09 L73.43,345.27 L74.68,345.46 L75.92,345.68 L77.16,345.93 L78.41,346.21 L79.65,346.52 L80.89,346.88 L82.13,347.27 L83.38,347.72 L84.62,348.22 L85.86,348.78 L87.11,349.40 L88.35,350.09 L89.59,350.85 L90.84,351.70 L92.08,352.63 L93.32,353.64 L94.57,354.75 L95.81,355.95 L97.05,357.25 L98.30,358.65 L99.54,360.14 L100.78,361.71 L102.03,363.37 L103.27,365.11 L104.51,366.91 L105.75,368.77 L107.00,370.66 L108.24,372.58 L109.48,374.50 L110.73,376.42 L111.97,378.31 L113.21,380.17 L114.46,381.97 L115.70,383.71 L116.94,385.37 L118.19,386.95 L119.43,388.44 L120.67,389.83 L121.92,391.14 L123.16,392.34 L124.40,393.45 L125.64,394.47 L126.89,395.40 L128.13,396.25 L129.37,397.01 L130.62,397.70 L131.86,398.33 L133.10,398.89 L134.35,399.39 L135.59,399.83 L136.83,400.23 L138.08,400.59 L139.32,400.90 L140.56,401.19 L141.81,401.43 L143.05,401.65 L144.29,401.85 L145.53,402.02 L146.78,402.17 L148.02,402.31 L149.26,402.43 L150.51,402.53 L151.75,402.62" stroke="#000" stroke-width="1.35" fill="none" stroke-dasharray="2.7 1.5"/>
<line x1="96.50" y1="344.21" x2="96.50" y2="349.80" stroke="#111" stroke-width="1.0" />
<line x1="94.20" y1="344.21" x2="98.80" y2="344.21" stroke="#111" stroke-width="1.0" />
<line x1="94.20" y1="349.80" x2="98.80" y2="349.80" stroke="#111" stroke-width="1.0" />
<path d="M94.60,347.01 L96.50,345.11 L98.40,347.01 L96.50,348.91 Z" fill="#2d4b79"/>
<line x1="107.55" y1="355.82" x2="107.55" y2="370.35" stroke="#111" stroke-width="1.0" />
<line x1="105.25" y1="355.82" x2="109.85" y2="355.82" stroke="#111" stroke-width="1.0" />
<line x1="105.25" y1="370.35" x2="109.85" y2="370.35" stroke="#111" stroke-width="1.0" />
<path d="M105.65,363.09 L107.55,361.19 L109.45,363.09 L107.55,364.99 Z" fill="#2d4b79"/>
<line x1="118.60" y1="374.39" x2="118.60" y2="387.80" stroke="#111" stroke-width="1.0" />
<line x1="116.30" y1="374.39" x2="120.90" y2="374.39" stroke="#111" stroke-width="1.0" />
<line x1="116.30" y1="387.80" x2="120.90" y2="387.80" stroke="#111" stroke-width="1.0" />
<path d="M116.70,381.09 L118.60,379.19 L120.50,381.09 L118.60,382.99 Z" fill="#2d4b79"/>
<line x1="129.65" y1="385.79" x2="129.65" y2="396.97" stroke="#111" stroke-width="1.0" />
<line x1="127.35" y1="385.79" x2="131.95" y2="385.79" stroke="#111" stroke-width="1.0" />
<line x1="127.35" y1="396.97" x2="131.95" y2="396.97" stroke="#111" stroke-width="1.0" />
<path d="M127.75,391.38 L129.65,389.48 L131.55,391.38 L129.65,393.28 Z" fill="#2d4b79"/>
<line x1="140.70" y1="388.14" x2="140.70" y2="402.22" stroke="#111" stroke-width="1.0" />
<line x1="138.40" y1="388.14" x2="143.00" y2="388.14" stroke="#111" stroke-width="1.0" />
<line x1="138.40" y1="402.22" x2="143.00" y2="402.22" stroke="#111" stroke-width="1.0" />
<path d="M138.80,395.18 L140.70,393.28 L142.60,395.18 L140.70,397.08 Z" fill="#2d4b79"/>
<line x1="151.75" y1="388.52" x2="151.75" y2="404.17" stroke="#111" stroke-width="1.0" />
<line x1="149.45" y1="388.52" x2="154.05" y2="388.52" stroke="#111" stroke-width="1.0" />
<line x1="149.45" y1="404.17" x2="154.05" y2="404.17" stroke="#111" stroke-width="1.0" />
<path d="M149.85,396.34 L151.75,394.44 L153.65,396.34 L151.75,398.24 Z" fill="#2d4b79"/>
<line x1="96.50" y1="356.50" x2="96.50" y2="361.50" stroke="#111" stroke-width="1.0" />
<line x1="94.20" y1="356.50" x2="98.80" y2="356.50" stroke="#111" stroke-width="1.0" />
<line x1="94.20" y1="361.50" x2="98.80" y2="361.50" stroke="#111" stroke-width="1.0" />
<path d="M50.40,336.01 L52.30,334.11 L54.20,336.01 L52.30,337.91 Z" fill="#a60029"/>
<path d="M72.50,336.48 L74.40,334.58 L76.30,336.48 L74.40,338.38 Z" fill="#a60029"/>
<path d="M83.55,338.46 L85.45,336.56 L87.35,338.46 L85.45,340.36 Z" fill="#a60029"/>
<line x1="107.55" y1="372.16" x2="107.55" y2="377.75" stroke="#111" stroke-width="1.0" />
<line x1="105.25" y1="372.16" x2="109.85" y2="372.16" stroke="#111" stroke-width="1.0" />
<line x1="105.25" y1="377.75" x2="109.85" y2="377.75" stroke="#111" stroke-width="1.0" />
<path d="M105.65,374.95 L107.55,373.05 L109.45,374.95 L107.55,376.85 Z" fill="#a60029"/>
<line x1="118.60" y1="404.23" x2="118.60" y2="409.82" stroke="#111" stroke-width="1.0" />
<line x1="116.30" y1="404.23" x2="120.90" y2="404.23" stroke="#111" stroke-width="1.0" />
<line x1="116.30" y1="409.82" x2="120.90" y2="409.82" stroke="#111" stroke-width="1.0" />
<path d="M116.70,407.02 L118.60,405.12 L120.50,407.02 L118.60,408.92 Z" fill="#a60029"/>
<line x1="129.65" y1="416.88" x2="129.65" y2="423.59" stroke="#111" stroke-width="1.0" />
<line x1="127.35" y1="416.88" x2="131.95" y2="416.88" stroke="#111" stroke-width="1.0" />
<line x1="127.35" y1="423.59" x2="131.95" y2="423.59" stroke="#111" stroke-width="1.0" />
<path d="M127.75,420.24 L129.65,418.34 L131.55,420.24 L129.65,422.14 Z" fill="#a60029"/>
<line x1="140.70" y1="419.42" x2="140.70" y2="427.24" stroke="#111" stroke-width="1.0" />
<line x1="138.40" y1="419.42" x2="143.00" y2="419.42" stroke="#111" stroke-width="1.0" />
<line x1="138.40" y1="427.24" x2="143.00" y2="427.24" stroke="#111" stroke-width="1.0" />
<path d="M138.80,423.33 L140.70,421.43 L142.60,423.33 L140.70,425.23 Z" fill="#a60029"/>
<line x1="151.75" y1="419.92" x2="151.75" y2="427.97" stroke="#111" stroke-width="1.0" />
<line x1="149.45" y1="419.92" x2="154.05" y2="419.92" stroke="#111" stroke-width="1.0" />
<line x1="149.45" y1="427.97" x2="154.05" y2="427.97" stroke="#111" stroke-width="1.0" />
<path d="M149.85,423.95 L151.75,422.05 L153.65,423.95 L151.75,425.85 Z" fill="#a60029"/>
<path d="M112.80,354.60 L114.80,352.60 L116.80,354.60 L114.80,356.60 Z" fill="#2d4b79"/>
<line x1="111.80" y1="354.60" x2="118.20" y2="354.60" stroke="#2d4b79" stroke-width="1.1" />
<text x="122.40" y="357.30" font-size="7.9">PON2<tspan font-size="5.2" dy="-3.1">-/-</tspan><tspan dy="3.1"> + IgG</tspan></text>
<path d="M65.90,399.00 L68.20,396.70 L70.50,399.00 L68.20,401.30 Z" fill="#a60029"/>
<line x1="64.60" y1="399.00" x2="71.80" y2="399.00" stroke="#a60029" stroke-width="1.3" />
<text x="75.00" y="401.80" font-size="7.9">WT + IgG</text>
<circle cx="114.50" cy="366.50" r="1.05" fill="#1a1a1a"/>
<circle cx="117.40" cy="366.50" r="1.05" fill="#1a1a1a"/>
<circle cx="120.50" cy="366.50" r="1.05" fill="#1a1a1a"/>
<circle cx="123.50" cy="366.50" r="1.05" fill="#1a1a1a"/>
<circle cx="126.80" cy="376.50" r="1.05" fill="#1a1a1a"/>
<circle cx="130.00" cy="376.50" r="1.05" fill="#1a1a1a"/>
<circle cx="133.30" cy="376.50" r="1.05" fill="#1a1a1a"/>
<circle cx="138.70" cy="381.60" r="1.05" fill="#1a1a1a"/>
<circle cx="141.70" cy="381.60" r="1.05" fill="#1a1a1a"/>
<circle cx="148.50" cy="381.60" r="1.05" fill="#1a1a1a"/>
<circle cx="151.50" cy="381.60" r="1.05" fill="#1a1a1a"/>
<circle cx="154.70" cy="381.60" r="1.05" fill="#1a1a1a"/>
<path d="M226.10,335.69 L227.40,335.73 L228.69,335.77 L229.99,335.82 L231.28,335.87 L232.58,335.93 L233.87,336.00 L235.17,336.08 L236.46,336.18 L237.76,336.28 L239.05,336.40 L240.35,336.54 L241.65,336.69 L242.94,336.86 L244.24,337.06 L245.53,337.29 L246.83,337.54 L248.12,337.83 L249.42,338.16 L250.71,338.53 L252.01,338.95 L253.30,339.42 L254.60,339.95 L255.90,340.54 L257.19,341.21 L258.49,341.95 L259.78,342.78 L261.08,343.71 L262.37,344.74 L263.67,345.87 L264.96,347.11 L266.26,348.48 L267.55,349.97 L268.85,351.58 L270.14,353.32 L271.44,355.19 L272.74,357.17 L274.03,359.27 L275.33,361.48 L276.62,363.77 L277.92,366.15 L279.21,368.58 L280.51,371.05 L281.80,373.54 L283.10,376.03 L284.39,378.49 L285.69,380.91 L286.99,383.26 L288.28,385.53 L289.58,387.70 L290.87,389.77 L292.17,391.72 L293.46,393.54 L294.76,395.24 L296.05,396.82 L297.35,398.27 L298.64,399.60 L299.94,400.81 L301.24,401.90 L302.53,402.90 L303.83,403.79 L305.12,404.60 L306.42,405.32 L307.71,405.96 L309.01,406.53 L310.30,407.05 L311.60,407.50 L312.89,407.90 L314.19,408.26 L315.49,408.57 L316.78,408.85 L318.08,409.10 L319.37,409.31 L320.67,409.50 L321.96,409.67 L323.26,409.82 L324.55,409.95 L325.85,410.06 L327.14,410.16 L328.44,410.25 L329.74,410.33" stroke="#2d4b79" stroke-width="1.9" fill="none" />
<path d="M226.10,337.23 L227.40,337.33 L228.69,337.45 L229.99,337.58 L231.28,337.73 L232.58,337.90 L233.87,338.09 L235.17,338.30 L236.46,338.54 L237.76,338.80 L239.05,339.10 L240.35,339.43 L241.65,339.81 L242.94,340.23 L244.24,340.69 L245.53,341.21 L246.83,341.79 L248.12,342.43 L249.42,343.14 L250.71,343.93 L252.01,344.79 L253.30,345.74 L254.60,346.79 L255.90,347.93 L257.19,349.16 L258.49,350.50 L259.78,351.95 L261.08,353.50 L262.37,355.16 L263.67,356.92 L264.96,358.77 L266.26,360.72 L267.55,362.75 L268.85,364.86 L270.14,367.02 L271.44,369.23 L272.74,371.46 L274.03,373.72 L275.33,375.96 L276.62,378.19 L277.92,380.38 L279.21,382.52 L280.51,384.60 L281.80,386.60 L283.10,388.51 L284.39,390.33 L285.69,392.05 L286.99,393.66 L288.28,395.17 L289.58,396.58 L290.87,397.87 L292.17,399.07 L293.46,400.17 L294.76,401.18 L296.05,402.09 L297.35,402.92 L298.64,403.68 L299.94,404.36 L301.24,404.98 L302.53,405.53 L303.83,406.03 L305.12,406.48 L306.42,406.88 L307.71,407.23 L309.01,407.55 L310.30,407.84 L311.60,408.09 L312.89,408.32 L314.19,408.52 L315.49,408.70 L316.78,408.86 L318.08,409.00 L319.37,409.13 L320.67,409.24 L321.96,409.34 L323.26,409.43 L324.55,409.50 L325.85,409.57 L327.14,409.63 L328.44,409.69 L329.74,409.74" stroke="#a60029" stroke-width="2.4" fill="none" />
<path d="M242.22,332.19 L243.31,332.29 L244.41,332.40 L245.50,332.53 L246.60,332.67 L247.69,332.83 L248.78,333.00 L249.88,333.20 L250.97,333.41 L252.07,333.66 L253.16,333.93 L254.25,334.23 L255.35,334.56 L256.44,334.93 L257.54,335.34 L258.63,335.80 L259.72,336.30 L260.82,336.86 L261.91,337.47 L263.01,338.14 L264.10,338.88 L265.19,339.69 L266.29,340.57 L267.38,341.53 L268.48,342.57 L269.57,343.70 L270.66,344.91 L271.76,346.22 L272.85,347.61 L273.94,349.09 L275.04,350.66 L276.13,352.32 L277.23,354.05 L278.32,355.85 L279.41,357.72 L280.51,359.65 L281.60,361.62 L282.70,363.62 L283.79,365.64 L284.88,367.67 L285.98,369.70 L287.07,371.70 L288.17,373.67 L289.26,375.60 L290.35,377.47 L291.45,379.28 L292.54,381.02 L293.64,382.67 L294.73,384.25 L295.82,385.74 L296.92,387.13 L298.01,388.44 L299.11,389.66 L300.20,390.79 L301.29,391.84 L302.39,392.80 L303.48,393.69 L304.57,394.50 L305.67,395.24 L306.76,395.92 L307.86,396.53 L308.95,397.09 L310.04,397.60 L311.14,398.06 L312.23,398.47 L313.33,398.84 L314.42,399.18 L315.51,399.48 L316.61,399.75 L317.70,400.00 L318.80,400.21 L319.89,400.41 L320.98,400.59 L322.08,400.74 L323.17,400.89 L324.27,401.01 L325.36,401.13 L326.45,401.23 L327.55,401.32 L328.64,401.40 L329.74,401.47" stroke="#000" stroke-width="1.35" fill="none" stroke-dasharray="2.7 1.5"/>
<path d="M226.10,344.57 L227.40,344.61 L228.69,344.64 L229.99,344.69 L231.28,344.74 L232.58,344.80 L233.87,344.86 L235.17,344.94 L236.46,345.03 L237.76,345.13 L239.05,345.25 L240.35,345.38 L241.65,345.54 L242.94,345.71 L244.24,345.92 L245.53,346.15 L246.83,346.41 L248.12,346.71 L249.42,347.06 L250.71,347.45 L252.01,347.89 L253.30,348.40 L254.60,348.97 L255.90,349.62 L257.19,350.34 L258.49,351.16 L259.78,352.08 L261.08,353.10 L262.37,354.23 L263.67,355.48 L264.96,356.86 L266.26,358.36 L267.55,360.00 L268.85,361.76 L270.14,363.65 L271.44,365.66 L272.74,367.78 L274.03,369.99 L275.33,372.27 L276.62,374.62 L277.92,377.00 L279.21,379.39 L280.51,381.78 L281.80,384.12 L283.10,386.42 L284.39,388.63 L285.69,390.75 L286.99,392.77 L288.28,394.67 L289.58,396.44 L290.87,398.08 L292.17,399.60 L293.46,400.98 L294.76,402.24 L296.05,403.38 L297.35,404.41 L298.64,405.33 L299.94,406.16 L301.24,406.89 L302.53,407.54 L303.83,408.12 L305.12,408.63 L306.42,409.08 L307.71,409.47 L309.01,409.82 L310.30,410.12 L311.60,410.39 L312.89,410.62 L314.19,410.83 L315.49,411.00 L316.78,411.16 L318.08,411.30 L319.37,411.41 L320.67,411.52 L321.96,411.61 L323.26,411.68 L324.55,411.75 L325.85,411.81 L327.14,411.86 L328.44,411.91 L329.74,411.95" stroke="#000" stroke-width="1.35" fill="none" stroke-dasharray="2.7 1.5"/>
<path d="M249.13,339.18 L250.14,339.67 L251.15,340.20 L252.15,340.77 L253.16,341.39 L254.17,342.05 L255.18,342.77 L256.18,343.55 L257.19,344.38 L258.20,345.27 L259.21,346.23 L260.21,347.24 L261.22,348.32 L262.23,349.46 L263.24,350.67 L264.24,351.95 L265.25,353.28 L266.26,354.68 L267.27,356.14 L268.27,357.65 L269.28,359.21 L270.29,360.81 L271.30,362.46 L272.30,364.14 L273.31,365.84 L274.32,367.57 L275.33,369.30 L276.33,371.03 L277.34,372.76 L278.35,374.48 L279.36,376.18 L280.36,377.84 L281.37,379.47 L282.38,381.06 L283.39,382.60 L284.39,384.09 L285.40,385.52 L286.41,386.89 L287.42,388.20 L288.42,389.44 L289.43,390.62 L290.44,391.74 L291.45,392.79 L292.46,393.78 L293.46,394.71 L294.47,395.57 L295.48,396.38 L296.49,397.13 L297.49,397.83 L298.50,398.47 L299.51,399.07 L300.52,399.63 L301.52,400.14 L302.53,400.60 L303.54,401.04 L304.55,401.43 L305.55,401.80 L306.56,402.13 L307.57,402.44 L308.58,402.72 L309.58,402.97 L310.59,403.21 L311.60,403.42 L312.61,403.62 L313.61,403.80 L314.62,403.96 L315.63,404.11 L316.64,404.24 L317.64,404.36 L318.65,404.48 L319.66,404.58 L320.67,404.67 L321.67,404.75 L322.68,404.83 L323.69,404.90 L324.70,404.96 L325.70,405.02 L326.71,405.07 L327.72,405.12 L328.73,405.17 L329.74,405.21" stroke="#000" stroke-width="1.35" fill="none" stroke-dasharray="2.7 1.5"/>
<path d="M226.10,346.24 L227.40,346.30 L228.69,346.38 L229.99,346.46 L231.28,346.55 L232.58,346.65 L233.87,346.77 L235.17,346.91 L236.46,347.06 L237.76,347.23 L239.05,347.43 L240.35,347.65 L241.65,347.90 L242.94,348.19 L244.24,348.51 L245.53,348.87 L246.83,349.27 L248.12,349.73 L249.42,350.24 L250.71,350.82 L252.01,351.46 L253.30,352.17 L254.60,352.97 L255.90,353.86 L257.19,354.83 L258.49,355.91 L259.78,357.10 L261.08,358.39 L262.37,359.80 L263.67,361.33 L264.96,362.97 L266.26,364.73 L267.55,366.61 L268.85,368.59 L270.14,370.67 L271.44,372.84 L272.74,375.08 L274.03,377.38 L275.33,379.73 L276.62,382.09 L277.92,384.45 L279.21,386.80 L280.51,389.12 L281.80,391.37 L283.10,393.56 L284.39,395.66 L285.69,397.66 L286.99,399.56 L288.28,401.35 L289.58,403.02 L290.87,404.57 L292.17,406.01 L293.46,407.33 L294.76,408.54 L296.05,409.64 L297.35,410.64 L298.64,411.54 L299.94,412.36 L301.24,413.09 L302.53,413.75 L303.83,414.34 L305.12,414.87 L306.42,415.33 L307.71,415.75 L309.01,416.12 L310.30,416.45 L311.60,416.74 L312.89,417.00 L314.19,417.23 L315.49,417.43 L316.78,417.61 L318.08,417.76 L319.37,417.90 L320.67,418.03 L321.96,418.13 L323.26,418.23 L324.55,418.31 L325.85,418.39 L327.14,418.45 L328.44,418.51 L329.74,418.56" stroke="#000" stroke-width="1.35" fill="none" stroke-dasharray="2.7 1.5"/>
<line x1="249.13" y1="335.33" x2="249.13" y2="340.84" stroke="#111" stroke-width="1.0" />
<line x1="246.83" y1="335.33" x2="251.43" y2="335.33" stroke="#111" stroke-width="1.0" />
<line x1="246.83" y1="340.84" x2="251.43" y2="340.84" stroke="#111" stroke-width="1.0" />
<path d="M247.23,338.08 L249.13,336.18 L251.03,338.08 L249.13,339.98 Z" fill="#2d4b79"/>
<line x1="260.64" y1="340.09" x2="260.64" y2="346.70" stroke="#111" stroke-width="1.0" />
<line x1="258.34" y1="340.09" x2="262.94" y2="340.09" stroke="#111" stroke-width="1.0" />
<line x1="258.34" y1="346.70" x2="262.94" y2="346.70" stroke="#111" stroke-width="1.0" />
<path d="M258.75,343.39 L260.64,341.49 L262.54,343.39 L260.64,345.29 Z" fill="#2d4b79"/>
<line x1="272.16" y1="350.77" x2="272.16" y2="361.78" stroke="#111" stroke-width="1.0" />
<line x1="269.86" y1="350.77" x2="274.46" y2="350.77" stroke="#111" stroke-width="1.0" />
<line x1="269.86" y1="361.78" x2="274.46" y2="361.78" stroke="#111" stroke-width="1.0" />
<path d="M270.26,356.28 L272.16,354.38 L274.06,356.28 L272.16,358.18 Z" fill="#2d4b79"/>
<line x1="283.68" y1="371.07" x2="283.68" y2="383.19" stroke="#111" stroke-width="1.0" />
<line x1="281.38" y1="371.07" x2="285.98" y2="371.07" stroke="#111" stroke-width="1.0" />
<line x1="281.38" y1="383.19" x2="285.98" y2="383.19" stroke="#111" stroke-width="1.0" />
<path d="M281.78,377.13 L283.68,375.23 L285.57,377.13 L283.68,379.03 Z" fill="#2d4b79"/>
<line x1="295.19" y1="390.83" x2="295.19" y2="400.74" stroke="#111" stroke-width="1.0" />
<line x1="292.89" y1="390.83" x2="297.49" y2="390.83" stroke="#111" stroke-width="1.0" />
<line x1="292.89" y1="400.74" x2="297.49" y2="400.74" stroke="#111" stroke-width="1.0" />
<path d="M293.29,395.78 L295.19,393.88 L297.09,395.78 L295.19,397.68 Z" fill="#2d4b79"/>
<line x1="306.70" y1="400.51" x2="306.70" y2="410.42" stroke="#111" stroke-width="1.0" />
<line x1="304.40" y1="400.51" x2="309.00" y2="400.51" stroke="#111" stroke-width="1.0" />
<line x1="304.40" y1="410.42" x2="309.00" y2="410.42" stroke="#111" stroke-width="1.0" />
<path d="M304.81,405.47 L306.70,403.57 L308.60,405.47 L306.70,407.37 Z" fill="#2d4b79"/>
<line x1="318.22" y1="403.61" x2="318.22" y2="414.63" stroke="#111" stroke-width="1.0" />
<line x1="315.92" y1="403.61" x2="320.52" y2="403.61" stroke="#111" stroke-width="1.0" />
<line x1="315.92" y1="414.63" x2="320.52" y2="414.63" stroke="#111" stroke-width="1.0" />
<path d="M316.32,409.12 L318.22,407.22 L320.12,409.12 L318.22,411.02 Z" fill="#2d4b79"/>
<line x1="329.74" y1="404.82" x2="329.74" y2="415.84" stroke="#111" stroke-width="1.0" />
<line x1="327.44" y1="404.82" x2="332.04" y2="404.82" stroke="#111" stroke-width="1.0" />
<line x1="327.44" y1="415.84" x2="332.04" y2="415.84" stroke="#111" stroke-width="1.0" />
<path d="M327.84,410.33 L329.74,408.43 L331.63,410.33 L329.74,412.23 Z" fill="#2d4b79"/>
<line x1="249.13" y1="340.22" x2="249.13" y2="345.73" stroke="#111" stroke-width="1.0" />
<line x1="246.83" y1="340.22" x2="251.43" y2="340.22" stroke="#111" stroke-width="1.0" />
<line x1="246.83" y1="345.73" x2="251.43" y2="345.73" stroke="#111" stroke-width="1.0" />
<path d="M247.23,342.98 L249.13,341.08 L251.03,342.98 L249.13,344.88 Z" fill="#a60029"/>
<line x1="260.64" y1="349.67" x2="260.64" y2="356.28" stroke="#111" stroke-width="1.0" />
<line x1="258.34" y1="349.67" x2="262.94" y2="349.67" stroke="#111" stroke-width="1.0" />
<line x1="258.34" y1="356.28" x2="262.94" y2="356.28" stroke="#111" stroke-width="1.0" />
<path d="M258.75,352.97 L260.64,351.07 L262.54,352.97 L260.64,354.87 Z" fill="#a60029"/>
<line x1="272.16" y1="365.51" x2="272.16" y2="375.42" stroke="#111" stroke-width="1.0" />
<line x1="269.86" y1="365.51" x2="274.46" y2="365.51" stroke="#111" stroke-width="1.0" />
<line x1="269.86" y1="375.42" x2="274.46" y2="375.42" stroke="#111" stroke-width="1.0" />
<path d="M270.26,370.47 L272.16,368.57 L274.06,370.47 L272.16,372.37 Z" fill="#a60029"/>
<line x1="283.68" y1="383.82" x2="283.68" y2="394.84" stroke="#111" stroke-width="1.0" />
<line x1="281.38" y1="383.82" x2="285.98" y2="383.82" stroke="#111" stroke-width="1.0" />
<line x1="281.38" y1="394.84" x2="285.98" y2="394.84" stroke="#111" stroke-width="1.0" />
<path d="M281.78,389.33 L283.68,387.43 L285.57,389.33 L283.68,391.23 Z" fill="#a60029"/>
<line x1="295.19" y1="396.53" x2="295.19" y2="406.45" stroke="#111" stroke-width="1.0" />
<line x1="292.89" y1="396.53" x2="297.49" y2="396.53" stroke="#111" stroke-width="1.0" />
<line x1="292.89" y1="406.45" x2="297.49" y2="406.45" stroke="#111" stroke-width="1.0" />
<path d="M293.29,401.49 L295.19,399.59 L297.09,401.49 L295.19,403.39 Z" fill="#a60029"/>
<line x1="306.70" y1="402.55" x2="306.70" y2="411.36" stroke="#111" stroke-width="1.0" />
<line x1="304.40" y1="402.55" x2="309.00" y2="402.55" stroke="#111" stroke-width="1.0" />
<line x1="304.40" y1="411.36" x2="309.00" y2="411.36" stroke="#111" stroke-width="1.0" />
<path d="M304.81,406.96 L306.70,405.06 L308.60,406.96 L306.70,408.86 Z" fill="#a60029"/>
<line x1="318.22" y1="404.06" x2="318.22" y2="413.97" stroke="#111" stroke-width="1.0" />
<line x1="315.92" y1="404.06" x2="320.52" y2="404.06" stroke="#111" stroke-width="1.0" />
<line x1="315.92" y1="413.97" x2="320.52" y2="413.97" stroke="#111" stroke-width="1.0" />
<path d="M316.32,409.02 L318.22,407.12 L320.12,409.02 L318.22,410.92 Z" fill="#a60029"/>
<line x1="329.74" y1="404.23" x2="329.74" y2="415.24" stroke="#111" stroke-width="1.0" />
<line x1="327.44" y1="404.23" x2="332.04" y2="404.23" stroke="#111" stroke-width="1.0" />
<line x1="327.44" y1="415.24" x2="332.04" y2="415.24" stroke="#111" stroke-width="1.0" />
<path d="M327.84,409.74 L329.74,407.84 L331.63,409.74 L329.74,411.64 Z" fill="#a60029"/>
<path d="M295.30,375.50 L297.30,373.50 L299.30,375.50 L297.30,377.50 Z" fill="#2d4b79"/>
<line x1="294.20" y1="375.50" x2="300.60" y2="375.50" stroke="#2d4b79" stroke-width="1.1" />
<text x="303.80" y="378.20" font-size="7.9">PON2<tspan font-size="5.2" dy="-3.1">-/-</tspan><tspan dy="3.1"> + 21E10</tspan></text>
<path d="M238.30,415.00 L240.60,412.70 L242.90,415.00 L240.60,417.30 Z" fill="#a60029"/>
<line x1="236.80" y1="415.00" x2="244.60" y2="415.00" stroke="#a60029" stroke-width="1.3" />
<text x="247.00" y="417.80" font-size="7.9">WT + 21E10</text>
<text x="338.80" y="424.50" font-size="7.6">n.s.</text>
</g>
</svg>
</body></html>
